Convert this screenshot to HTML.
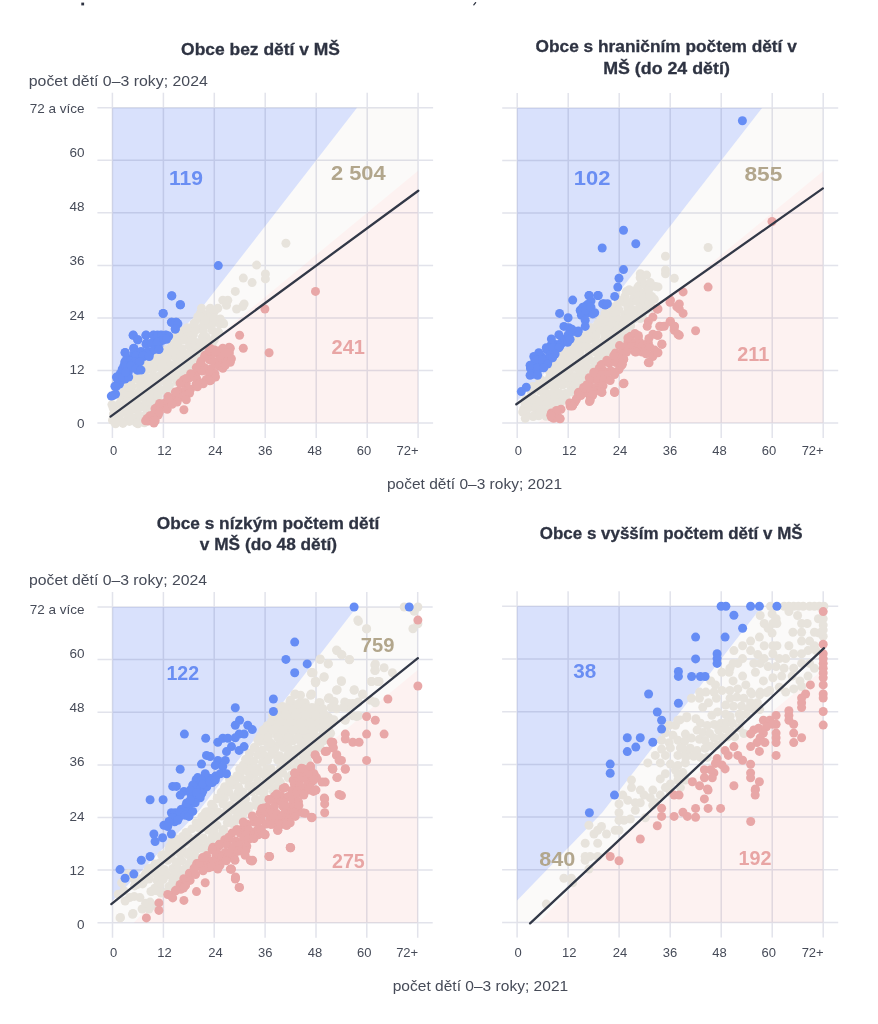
<!DOCTYPE html>
<html><head><meta charset="utf-8"><style>
html,body{margin:0;padding:0;background:#fff;width:878px;height:1024px;overflow:hidden}
svg{display:block}
text{font-family:"Liberation Sans","DejaVu Sans",sans-serif}
</style></head><body>
<svg width="878" height="1024" viewBox="0 0 878 1024">
<rect x="112.4" y="107.7" width="305.7" height="315.4" fill="#fbfaf9"/>
<polygon points="112.4,401.2 197.3,313.6 357,107.7 112.4,107.7" fill="#d9e1fc"/>
<polygon points="133.6,423.1 218.5,335.5 418.1,170.8 418.1,423.1" fill="#fdf2f1"/>
<path d="M97.4 423.1H433.1M112.4 92.7V438.1M97.4 370.5H433.1M163.4 92.7V438.1M97.4 318H433.1M214.3 92.7V438.1M97.4 265.4H433.1M265.2 92.7V438.1M97.4 212.8H433.1M316.2 92.7V438.1M97.4 160.3H433.1M367.2 92.7V438.1M97.4 107.7H433.1M418.1 92.7V438.1" stroke="rgba(50,60,110,0.14)" stroke-width="1.5" fill="none"/>
<g fill="#e7e3dc"><circle cx="202.2" cy="315.3" r="4.5"/><circle cx="207.4" cy="314.3" r="4.5"/><circle cx="212.4" cy="314.5" r="4.5"/><circle cx="198.2" cy="318.5" r="4.5"/><circle cx="202.6" cy="319.1" r="4.5"/><circle cx="210.2" cy="319.6" r="4.5"/><circle cx="218.6" cy="320" r="4.5"/><circle cx="194.2" cy="323.6" r="4.5"/><circle cx="202.3" cy="326.6" r="4.5"/><circle cx="207.4" cy="324.8" r="4.5"/><circle cx="212.5" cy="323.5" r="4.5"/><circle cx="219.7" cy="324.1" r="4.5"/><circle cx="184.1" cy="330.5" r="4.5"/><circle cx="191" cy="328.9" r="4.5"/><circle cx="196.3" cy="329.7" r="4.5"/><circle cx="203.4" cy="331.1" r="4.5"/><circle cx="212.2" cy="330.3" r="4.5"/><circle cx="218.6" cy="332.1" r="4.5"/><circle cx="177.1" cy="335.7" r="4.5"/><circle cx="181.5" cy="337.6" r="4.5"/><circle cx="189" cy="334.9" r="4.5"/><circle cx="193.4" cy="334.9" r="4.5"/><circle cx="202.4" cy="337.1" r="4.5"/><circle cx="206.3" cy="337.1" r="4.5"/><circle cx="215.5" cy="336.6" r="4.5"/><circle cx="172" cy="343" r="4.5"/><circle cx="178.7" cy="341.7" r="4.5"/><circle cx="185.1" cy="340" r="4.5"/><circle cx="191.3" cy="340.5" r="4.5"/><circle cx="196.2" cy="342.6" r="4.5"/><circle cx="203.2" cy="341.5" r="4.5"/><circle cx="211.4" cy="341.8" r="4.5"/><circle cx="169.7" cy="348.5" r="4.5"/><circle cx="177" cy="346.4" r="4.5"/><circle cx="182.1" cy="348.7" r="4.5"/><circle cx="189.4" cy="345.9" r="4.5"/><circle cx="193.4" cy="347" r="4.5"/><circle cx="199.6" cy="346.3" r="4.5"/><circle cx="206" cy="347.8" r="4.5"/><circle cx="164.2" cy="352.2" r="4.5"/><circle cx="172.7" cy="352.8" r="4.5"/><circle cx="177.2" cy="354.4" r="4.5"/><circle cx="186" cy="354.3" r="4.5"/><circle cx="190.1" cy="351.9" r="4.5"/><circle cx="196.3" cy="353.7" r="4.5"/><circle cx="203.5" cy="351.5" r="4.5"/><circle cx="156.1" cy="357.8" r="4.5"/><circle cx="162.8" cy="359.8" r="4.5"/><circle cx="168.3" cy="357" r="4.5"/><circle cx="175.6" cy="357.4" r="4.5"/><circle cx="180.5" cy="357.2" r="4.5"/><circle cx="186.7" cy="357.3" r="4.5"/><circle cx="194" cy="357.6" r="4.5"/><circle cx="146.1" cy="365" r="4.5"/><circle cx="153.8" cy="364.3" r="4.5"/><circle cx="159.1" cy="363.4" r="4.5"/><circle cx="164.4" cy="362.6" r="4.5"/><circle cx="170.8" cy="364.7" r="4.5"/><circle cx="177.8" cy="362.7" r="4.5"/><circle cx="183.7" cy="365" r="4.5"/><circle cx="192.7" cy="364.5" r="4.5"/><circle cx="148.5" cy="369.1" r="4.5"/><circle cx="154.7" cy="367.8" r="4.5"/><circle cx="162" cy="368.5" r="4.5"/><circle cx="169.4" cy="369.5" r="4.5"/><circle cx="176.3" cy="370" r="4.5"/><circle cx="182.6" cy="370.7" r="4.5"/><circle cx="187.9" cy="368.9" r="4.5"/><circle cx="139" cy="374.5" r="4.5"/><circle cx="145.3" cy="376.2" r="4.5"/><circle cx="153.3" cy="375.4" r="4.5"/><circle cx="159.9" cy="375.6" r="4.5"/><circle cx="165.8" cy="373.3" r="4.5"/><circle cx="173.3" cy="375.9" r="4.5"/><circle cx="178.7" cy="375.1" r="4.5"/><circle cx="131.5" cy="379.9" r="4.5"/><circle cx="137.3" cy="378.9" r="4.5"/><circle cx="142" cy="379.8" r="4.5"/><circle cx="150.5" cy="381.2" r="4.5"/><circle cx="156.9" cy="379.9" r="4.5"/><circle cx="162.7" cy="380.5" r="4.5"/><circle cx="169" cy="379.3" r="4.5"/><circle cx="176.8" cy="379.6" r="4.5"/><circle cx="127.4" cy="384.5" r="4.5"/><circle cx="132.2" cy="386.1" r="4.5"/><circle cx="140.1" cy="385.5" r="4.5"/><circle cx="145.4" cy="385.6" r="4.5"/><circle cx="152.4" cy="387.3" r="4.5"/><circle cx="157.8" cy="387" r="4.5"/><circle cx="167" cy="384.9" r="4.5"/><circle cx="125.6" cy="392.8" r="4.5"/><circle cx="131.1" cy="393.1" r="4.5"/><circle cx="138.6" cy="391.9" r="4.5"/><circle cx="144.2" cy="390.2" r="4.5"/><circle cx="150.7" cy="391.6" r="4.5"/><circle cx="157.1" cy="392.2" r="4.5"/><circle cx="161.9" cy="390.2" r="4.5"/><circle cx="120.5" cy="395.9" r="4.5"/><circle cx="126.6" cy="396.5" r="4.5"/><circle cx="134.1" cy="398.6" r="4.5"/><circle cx="141.1" cy="397" r="4.5"/><circle cx="146.4" cy="397.4" r="4.5"/><circle cx="152.6" cy="396.7" r="4.5"/><circle cx="158" cy="396.5" r="4.5"/><circle cx="119" cy="404.1" r="4.5"/><circle cx="125.9" cy="402" r="4.5"/><circle cx="129.3" cy="401.7" r="4.5"/><circle cx="137.1" cy="403.5" r="4.5"/><circle cx="145" cy="403.6" r="4.5"/><circle cx="150.4" cy="403.8" r="4.5"/><circle cx="156.1" cy="403" r="4.5"/><circle cx="113.8" cy="407.6" r="4.5"/><circle cx="122.6" cy="409.1" r="4.5"/><circle cx="126.8" cy="406.8" r="4.5"/><circle cx="133.9" cy="409" r="4.5"/><circle cx="140" cy="407.6" r="4.5"/><circle cx="147.2" cy="409.9" r="4.5"/><circle cx="152.1" cy="406.8" r="4.5"/><circle cx="116.9" cy="415.6" r="4.5"/><circle cx="123.1" cy="412.5" r="4.5"/><circle cx="129.2" cy="413.6" r="4.5"/><circle cx="138.4" cy="415.3" r="4.5"/><circle cx="144.3" cy="415.7" r="4.5"/><circle cx="116" cy="418" r="4.5"/><circle cx="120.8" cy="420.6" r="4.5"/><circle cx="128.4" cy="418" r="4.5"/><circle cx="132.3" cy="418.1" r="4.5"/><circle cx="141.7" cy="418.7" r="4.5"/><circle cx="138" cy="423.7" r="4.5"/><circle cx="112.5" cy="420.3" r="4.5"/><circle cx="113.4" cy="414.1" r="4.5"/><circle cx="113.1" cy="408" r="4.5"/><circle cx="111.9" cy="404.6" r="4.5"/><circle cx="120.2" cy="396.1" r="4.5"/><circle cx="124" cy="392" r="4.5"/><circle cx="128" cy="386.9" r="4.5"/><circle cx="131" cy="381.5" r="4.5"/><circle cx="137.3" cy="376.7" r="4.5"/><circle cx="145.5" cy="368.6" r="4.5"/><circle cx="154.4" cy="361" r="4.5"/><circle cx="159.8" cy="356.4" r="4.5"/><circle cx="166.1" cy="350.4" r="4.5"/><circle cx="174" cy="341.1" r="4.5"/><circle cx="178.7" cy="333.5" r="4.5"/><circle cx="187.3" cy="327.7" r="4.5"/><circle cx="194.2" cy="323.3" r="4.5"/><circle cx="197.8" cy="316.8" r="4.5"/><circle cx="200.4" cy="313.1" r="4.5"/><circle cx="210.6" cy="312.6" r="4.5"/><circle cx="214.4" cy="311.2" r="4.5"/><circle cx="219.7" cy="319.7" r="4.5"/><circle cx="223.7" cy="323.7" r="4.5"/><circle cx="217.9" cy="333" r="4.5"/><circle cx="214.3" cy="339.8" r="4.5"/><circle cx="212.1" cy="343.9" r="4.5"/><circle cx="205.6" cy="347.7" r="4.5"/><circle cx="202.1" cy="355.5" r="4.5"/><circle cx="195.5" cy="359.1" r="4.5"/><circle cx="190.8" cy="364.5" r="4.5"/><circle cx="183.9" cy="371.9" r="4.5"/><circle cx="176.8" cy="381.9" r="4.5"/><circle cx="169.4" cy="385.6" r="4.5"/><circle cx="166.6" cy="391.5" r="4.5"/><circle cx="158.5" cy="401.8" r="4.5"/><circle cx="150.7" cy="410.1" r="4.5"/><circle cx="144.3" cy="418.8" r="4.5"/><circle cx="144.4" cy="422.8" r="4.5"/><circle cx="136.3" cy="422.7" r="4.5"/><circle cx="129.4" cy="421.4" r="4.5"/><circle cx="122.9" cy="423.4" r="4.5"/><circle cx="115.5" cy="423.7" r="4.5"/></g>
<g fill="#e7e3dc"><circle cx="285.9" cy="243.3" r="4.5"/><circle cx="256.6" cy="265.1" r="4.5"/><circle cx="265.4" cy="273.9" r="4.5"/><circle cx="265.4" cy="278.9" r="4.5"/><circle cx="243.3" cy="278.1" r="4.5"/><circle cx="252.1" cy="282.6" r="4.5"/><circle cx="235.3" cy="291.4" r="4.5"/><circle cx="222.8" cy="300.2" r="4.5"/><circle cx="227.8" cy="300.2" r="4.5"/><circle cx="226.5" cy="305.2" r="4.5"/><circle cx="236.6" cy="309" r="4.5"/><circle cx="242.8" cy="306.4" r="4.5"/><circle cx="244.1" cy="303.9" r="4.5"/><circle cx="201.5" cy="308.2" r="4.5"/><circle cx="210.2" cy="308.2" r="4.5"/><circle cx="217.8" cy="308.2" r="4.5"/><circle cx="200.2" cy="316.5" r="4.5"/><circle cx="205.2" cy="320.2" r="4.5"/><circle cx="214" cy="317.7" r="4.5"/><circle cx="220.3" cy="319" r="4.5"/><circle cx="222.8" cy="322.7" r="4.5"/></g>
<g fill="#e8a7a7"><circle cx="214.5" cy="350" r="4.5"/><circle cx="220.6" cy="350.5" r="4.5"/><circle cx="205" cy="355.3" r="4.5"/><circle cx="212.9" cy="353.7" r="4.5"/><circle cx="220.1" cy="355.5" r="4.5"/><circle cx="224.8" cy="356" r="4.5"/><circle cx="201.2" cy="361" r="4.5"/><circle cx="209.5" cy="359.7" r="4.5"/><circle cx="214.1" cy="361.5" r="4.5"/><circle cx="220.2" cy="359.3" r="4.5"/><circle cx="228.1" cy="359.6" r="4.5"/><circle cx="198.5" cy="367.1" r="4.5"/><circle cx="204.3" cy="367.4" r="4.5"/><circle cx="211.4" cy="368.4" r="4.5"/><circle cx="219.2" cy="366" r="4.5"/><circle cx="195.9" cy="373.7" r="4.5"/><circle cx="202.1" cy="371.1" r="4.5"/><circle cx="209.4" cy="373.6" r="4.5"/><circle cx="214.9" cy="373.6" r="4.5"/><circle cx="183.4" cy="380" r="4.5"/><circle cx="189.6" cy="377.9" r="4.5"/><circle cx="197.1" cy="379.5" r="4.5"/><circle cx="206.3" cy="379.5" r="4.5"/><circle cx="211" cy="380" r="4.5"/><circle cx="182.4" cy="383.4" r="4.5"/><circle cx="186.2" cy="383.3" r="4.5"/><circle cx="196.1" cy="384.1" r="4.5"/><circle cx="200.2" cy="383" r="4.5"/><circle cx="178.7" cy="391" r="4.5"/><circle cx="185.5" cy="391" r="4.5"/><circle cx="190.5" cy="389.2" r="4.5"/><circle cx="168.1" cy="396.6" r="4.5"/><circle cx="173.2" cy="397.7" r="4.5"/><circle cx="179.6" cy="397.5" r="4.5"/><circle cx="186.7" cy="394.7" r="4.5"/><circle cx="165" cy="403" r="4.5"/><circle cx="171.8" cy="402.8" r="4.5"/><circle cx="177.1" cy="402" r="4.5"/><circle cx="155" cy="408.8" r="4.5"/><circle cx="161.4" cy="407.2" r="4.5"/><circle cx="167.2" cy="409.2" r="4.5"/><circle cx="150" cy="415.8" r="4.5"/><circle cx="158.2" cy="415" r="4.5"/><circle cx="148.3" cy="421" r="4.5"/><circle cx="154.5" cy="421.3" r="4.5"/><circle cx="147.2" cy="418.5" r="4.5"/><circle cx="153.6" cy="414.2" r="4.5"/><circle cx="156.8" cy="407.6" r="4.5"/><circle cx="159.6" cy="403.4" r="4.5"/><circle cx="168.3" cy="398.7" r="4.5"/><circle cx="175.4" cy="391.9" r="4.5"/><circle cx="180.1" cy="383.1" r="4.5"/><circle cx="186.1" cy="378.4" r="4.5"/><circle cx="190.7" cy="373.7" r="4.5"/><circle cx="196.3" cy="367.6" r="4.5"/><circle cx="200.6" cy="362.6" r="4.5"/><circle cx="204.6" cy="356.6" r="4.5"/><circle cx="209" cy="350.9" r="4.5"/><circle cx="210.6" cy="348.6" r="4.5"/><circle cx="216.3" cy="351.1" r="4.5"/><circle cx="223.5" cy="352.8" r="4.5"/><circle cx="229.4" cy="352.9" r="4.5"/><circle cx="229.1" cy="347.3" r="4.5"/><circle cx="231.4" cy="358.8" r="4.5"/><circle cx="225.4" cy="363" r="4.5"/><circle cx="222.8" cy="368.3" r="4.5"/><circle cx="215.5" cy="377" r="4.5"/><circle cx="209.9" cy="380.7" r="4.5"/><circle cx="203.3" cy="383.7" r="4.5"/><circle cx="197.4" cy="386.7" r="4.5"/><circle cx="189.6" cy="393.1" r="4.5"/><circle cx="186.3" cy="399.8" r="4.5"/><circle cx="172.1" cy="404.2" r="4.5"/><circle cx="159.3" cy="412.2" r="4.5"/><circle cx="153.9" cy="421" r="4.5"/><circle cx="155.2" cy="420.7" r="4.5"/><circle cx="145.6" cy="420.7" r="4.5"/></g>
<g fill="#e8a7a7"><circle cx="315.5" cy="291.4" r="4.5"/><circle cx="264.9" cy="309" r="4.5"/><circle cx="239.6" cy="335.3" r="4.5"/><circle cx="243.3" cy="348.3" r="4.5"/><circle cx="269.1" cy="352.8" r="4.5"/><circle cx="222.8" cy="348.3" r="4.5"/><circle cx="230.3" cy="348.3" r="4.5"/><circle cx="226.5" cy="352.8" r="4.5"/><circle cx="230.3" cy="362.3" r="4.5"/><circle cx="225.3" cy="365.3" r="4.5"/><circle cx="183.9" cy="409.7" r="4.5"/><circle cx="153.9" cy="423" r="4.5"/></g>
<g fill="#668df5"><circle cx="127" cy="362.3" r="4.5"/><circle cx="133.8" cy="361.1" r="4.5"/><circle cx="123.9" cy="366" r="4.5"/><circle cx="131.2" cy="367.2" r="4.5"/><circle cx="120.2" cy="373.7" r="4.5"/><circle cx="128.1" cy="372.8" r="4.5"/><circle cx="118.4" cy="378.5" r="4.5"/><circle cx="123.5" cy="378.4" r="4.5"/><circle cx="115.6" cy="394.1" r="4.5"/><circle cx="119.5" cy="384.1" r="4.5"/><circle cx="118.8" cy="378.9" r="4.5"/><circle cx="122.2" cy="369.3" r="4.5"/><circle cx="124.7" cy="362.1" r="4.5"/><circle cx="130.9" cy="358.5" r="4.5"/><circle cx="133.8" cy="353.9" r="4.5"/><circle cx="139.8" cy="353.8" r="4.5"/><circle cx="137.1" cy="362.8" r="4.5"/><circle cx="128.8" cy="370" r="4.5"/><circle cx="122.4" cy="379.6" r="4.5"/><circle cx="114.9" cy="386.2" r="4.5"/><circle cx="113.3" cy="395.4" r="4.5"/></g>
<g fill="#668df5"><circle cx="218.3" cy="265.6" r="4.5"/><circle cx="171.7" cy="295.7" r="4.5"/><circle cx="180.2" cy="304.7" r="4.5"/><circle cx="163.1" cy="313.5" r="4.5"/><circle cx="171.4" cy="322.2" r="4.5"/><circle cx="176.4" cy="322.2" r="4.5"/><circle cx="175.2" cy="329" r="4.5"/><circle cx="133.1" cy="335.3" r="4.5"/><circle cx="145.9" cy="335.3" r="4.5"/><circle cx="153.9" cy="335.3" r="4.5"/><circle cx="160.1" cy="335.3" r="4.5"/><circle cx="166.4" cy="335.3" r="4.5"/><circle cx="137.6" cy="339.8" r="4.5"/><circle cx="146.4" cy="343.3" r="4.5"/><circle cx="152.6" cy="343.3" r="4.5"/><circle cx="158.9" cy="343.3" r="4.5"/><circle cx="162.6" cy="340.3" r="4.5"/><circle cx="133.8" cy="348.3" r="4.5"/><circle cx="158.9" cy="349" r="4.5"/><circle cx="125.1" cy="352.8" r="4.5"/><circle cx="141.3" cy="352.8" r="4.5"/><circle cx="150.1" cy="352.8" r="4.5"/><circle cx="127.6" cy="361.6" r="4.5"/><circle cx="135.1" cy="359.1" r="4.5"/><circle cx="143.8" cy="356.6" r="4.5"/><circle cx="127.6" cy="370.3" r="4.5"/><circle cx="137.6" cy="370.3" r="4.5"/><circle cx="117.5" cy="379.1" r="4.5"/><circle cx="125.1" cy="379.1" r="4.5"/><circle cx="116.3" cy="386.6" r="4.5"/><circle cx="111.3" cy="396.1" r="4.5"/><circle cx="171.8" cy="295.9" r="4.5"/><circle cx="180.5" cy="304.7" r="4.5"/><circle cx="163.2" cy="313.4" r="4.5"/><circle cx="171.8" cy="322.3" r="4.5"/><circle cx="175.9" cy="322.3" r="4.5"/><circle cx="177.9" cy="323.8" r="4.5"/><circle cx="175.3" cy="329" r="4.5"/><circle cx="133.3" cy="335.1" r="4.5"/><circle cx="146.1" cy="335.1" r="4.5"/><circle cx="153.3" cy="335.1" r="4.5"/><circle cx="157.4" cy="335.1" r="4.5"/><circle cx="161.5" cy="335.1" r="4.5"/><circle cx="165.6" cy="335.1" r="4.5"/><circle cx="168.7" cy="336.1" r="4.5"/><circle cx="137.9" cy="339.7" r="4.5"/><circle cx="146.1" cy="344.3" r="4.5"/><circle cx="151.3" cy="343.3" r="4.5"/><circle cx="157.4" cy="342.3" r="4.5"/><circle cx="163.6" cy="339.2" r="4.5"/><circle cx="166.6" cy="339.2" r="4.5"/><circle cx="133.8" cy="348.4" r="4.5"/><circle cx="141" cy="351.5" r="4.5"/><circle cx="148.2" cy="351.5" r="4.5"/><circle cx="154.3" cy="349.5" r="4.5"/><circle cx="158.9" cy="349.5" r="4.5"/><circle cx="125.1" cy="352.5" r="4.5"/><circle cx="135.9" cy="355.6" r="4.5"/><circle cx="143.1" cy="355.6" r="4.5"/><circle cx="149.2" cy="356.6" r="4.5"/><circle cx="125.6" cy="360.7" r="4.5"/><circle cx="130.8" cy="360.7" r="4.5"/><circle cx="134.9" cy="361.8" r="4.5"/><circle cx="140" cy="361.8" r="4.5"/><circle cx="125.6" cy="365.9" r="4.5"/><circle cx="130.8" cy="365.9" r="4.5"/><circle cx="135.9" cy="368.9" r="4.5"/><circle cx="141" cy="370" r="4.5"/><circle cx="116.4" cy="377.1" r="4.5"/><circle cx="122.6" cy="377.1" r="4.5"/><circle cx="128.7" cy="377.1" r="4.5"/><circle cx="125.6" cy="372" r="4.5"/></g>
<line x1="110.5" y1="416.6" x2="418.3" y2="190.7" stroke="#323847" stroke-width="2.3" stroke-linecap="round"/>
<rect x="517.2" y="107.9" width="306" height="315.1" fill="#fbfaf9"/>
<polygon points="517.2,401.1 602.2,313.6 762,107.9 517.2,107.9" fill="#d9e1fc"/>
<polygon points="538.5,423 623.5,335.5 823.2,170.9 823.2,423" fill="#fdf2f1"/>
<path d="M502.2 423H838.2M517.2 92.9V438M502.2 370.5H838.2M568.2 92.9V438M502.2 318H838.2M619.2 92.9V438M502.2 265.4H838.2M670.2 92.9V438M502.2 212.9H838.2M721.2 92.9V438M502.2 160.4H838.2M772.2 92.9V438M502.2 107.9H838.2M823.2 92.9V438" stroke="rgba(50,60,110,0.14)" stroke-width="1.5" fill="none"/>
<g fill="#e7e3dc"><circle cx="642.1" cy="282.2" r="4.5"/><circle cx="637.9" cy="287.1" r="4.5"/><circle cx="647" cy="286.8" r="4.5"/><circle cx="630.8" cy="291" r="4.5"/><circle cx="635.6" cy="290.6" r="4.5"/><circle cx="641.5" cy="292.9" r="4.5"/><circle cx="648.2" cy="290.7" r="4.5"/><circle cx="625.1" cy="296.3" r="4.5"/><circle cx="633.6" cy="298.1" r="4.5"/><circle cx="638.1" cy="295.9" r="4.5"/><circle cx="644.1" cy="297.7" r="4.5"/><circle cx="651.9" cy="296.6" r="4.5"/><circle cx="617.5" cy="304" r="4.5"/><circle cx="624.4" cy="302.3" r="4.5"/><circle cx="630.2" cy="302.5" r="4.5"/><circle cx="636.8" cy="301.4" r="4.5"/><circle cx="643.6" cy="304.5" r="4.5"/><circle cx="648.7" cy="303" r="4.5"/><circle cx="613.8" cy="309.3" r="4.5"/><circle cx="618.8" cy="309.6" r="4.5"/><circle cx="627.8" cy="308.1" r="4.5"/><circle cx="632.5" cy="309.6" r="4.5"/><circle cx="639.2" cy="308.1" r="4.5"/><circle cx="647" cy="309.4" r="4.5"/><circle cx="651.4" cy="307.6" r="4.5"/><circle cx="609.5" cy="314.7" r="4.5"/><circle cx="616" cy="314.2" r="4.5"/><circle cx="624.6" cy="314.5" r="4.5"/><circle cx="628.7" cy="314.1" r="4.5"/><circle cx="635.7" cy="315.6" r="4.5"/><circle cx="641.6" cy="313.4" r="4.5"/><circle cx="600.8" cy="319.2" r="4.5"/><circle cx="607.4" cy="318" r="4.5"/><circle cx="613" cy="320.9" r="4.5"/><circle cx="619" cy="319.8" r="4.5"/><circle cx="626.3" cy="318.9" r="4.5"/><circle cx="634.4" cy="318.9" r="4.5"/><circle cx="640.1" cy="318.5" r="4.5"/><circle cx="597.8" cy="325.2" r="4.5"/><circle cx="605.5" cy="325.4" r="4.5"/><circle cx="610" cy="326.2" r="4.5"/><circle cx="618" cy="325.6" r="4.5"/><circle cx="622.7" cy="325" r="4.5"/><circle cx="629.4" cy="325.9" r="4.5"/><circle cx="589.6" cy="330.8" r="4.5"/><circle cx="594.4" cy="331.4" r="4.5"/><circle cx="600.4" cy="330.3" r="4.5"/><circle cx="607.5" cy="330.3" r="4.5"/><circle cx="615.1" cy="331.4" r="4.5"/><circle cx="620" cy="329.4" r="4.5"/><circle cx="625.9" cy="330.4" r="4.5"/><circle cx="585.1" cy="335.8" r="4.5"/><circle cx="592.8" cy="336.8" r="4.5"/><circle cx="596" cy="336" r="4.5"/><circle cx="604.9" cy="335.7" r="4.5"/><circle cx="611" cy="334.6" r="4.5"/><circle cx="616.1" cy="337.5" r="4.5"/><circle cx="623.4" cy="336.9" r="4.5"/><circle cx="576.5" cy="342.2" r="4.5"/><circle cx="581" cy="341.7" r="4.5"/><circle cx="587.5" cy="340.4" r="4.5"/><circle cx="595.7" cy="342.2" r="4.5"/><circle cx="602.3" cy="341.7" r="4.5"/><circle cx="607.5" cy="341" r="4.5"/><circle cx="612" cy="343.4" r="4.5"/><circle cx="573" cy="347" r="4.5"/><circle cx="577.5" cy="346.4" r="4.5"/><circle cx="584" cy="346.6" r="4.5"/><circle cx="589.5" cy="348" r="4.5"/><circle cx="597" cy="346.3" r="4.5"/><circle cx="604.6" cy="346.1" r="4.5"/><circle cx="609.5" cy="348.6" r="4.5"/><circle cx="563.3" cy="352.6" r="4.5"/><circle cx="569.3" cy="353.3" r="4.5"/><circle cx="574.5" cy="352.7" r="4.5"/><circle cx="580.1" cy="351.9" r="4.5"/><circle cx="589.1" cy="352.4" r="4.5"/><circle cx="594.9" cy="351.7" r="4.5"/><circle cx="600.9" cy="352.6" r="4.5"/><circle cx="607.1" cy="352.3" r="4.5"/><circle cx="559.9" cy="357" r="4.5"/><circle cx="564" cy="357.4" r="4.5"/><circle cx="570.9" cy="357.9" r="4.5"/><circle cx="577.9" cy="357" r="4.5"/><circle cx="584.1" cy="359.1" r="4.5"/><circle cx="590" cy="359.8" r="4.5"/><circle cx="597.8" cy="359.3" r="4.5"/><circle cx="603.1" cy="358.4" r="4.5"/><circle cx="557.1" cy="364.6" r="4.5"/><circle cx="562.2" cy="362.7" r="4.5"/><circle cx="569.4" cy="363.9" r="4.5"/><circle cx="575.2" cy="365.6" r="4.5"/><circle cx="580.3" cy="365.1" r="4.5"/><circle cx="586.4" cy="364.9" r="4.5"/><circle cx="595.4" cy="363.4" r="4.5"/><circle cx="552.6" cy="370.6" r="4.5"/><circle cx="560.3" cy="368.4" r="4.5"/><circle cx="564.8" cy="369.3" r="4.5"/><circle cx="570.9" cy="368.2" r="4.5"/><circle cx="577.6" cy="368.7" r="4.5"/><circle cx="585.4" cy="369.6" r="4.5"/><circle cx="589.8" cy="369.1" r="4.5"/><circle cx="550" cy="376.5" r="4.5"/><circle cx="557.4" cy="374.2" r="4.5"/><circle cx="563.3" cy="376.4" r="4.5"/><circle cx="569.6" cy="374.7" r="4.5"/><circle cx="574.1" cy="376.4" r="4.5"/><circle cx="580.9" cy="374.9" r="4.5"/><circle cx="588.1" cy="374.9" r="4.5"/><circle cx="539.7" cy="380.1" r="4.5"/><circle cx="546.9" cy="380.9" r="4.5"/><circle cx="552.5" cy="380.3" r="4.5"/><circle cx="558.9" cy="381.4" r="4.5"/><circle cx="566.6" cy="382.2" r="4.5"/><circle cx="570.8" cy="380.2" r="4.5"/><circle cx="578.1" cy="381.1" r="4.5"/><circle cx="584.2" cy="379.8" r="4.5"/><circle cx="537" cy="386.2" r="4.5"/><circle cx="543.2" cy="386.7" r="4.5"/><circle cx="549.2" cy="385.1" r="4.5"/><circle cx="554.8" cy="387.8" r="4.5"/><circle cx="562.5" cy="385.1" r="4.5"/><circle cx="570" cy="385.6" r="4.5"/><circle cx="573.8" cy="386.5" r="4.5"/><circle cx="533.1" cy="390.4" r="4.5"/><circle cx="540.2" cy="391" r="4.5"/><circle cx="545.6" cy="392.7" r="4.5"/><circle cx="552.5" cy="393.3" r="4.5"/><circle cx="559.5" cy="393.3" r="4.5"/><circle cx="565.7" cy="393.4" r="4.5"/><circle cx="573.2" cy="390.9" r="4.5"/><circle cx="531" cy="397.2" r="4.5"/><circle cx="535.5" cy="398.9" r="4.5"/><circle cx="543.3" cy="398.2" r="4.5"/><circle cx="550.6" cy="399.1" r="4.5"/><circle cx="554.3" cy="397" r="4.5"/><circle cx="561.1" cy="397.6" r="4.5"/><circle cx="525.9" cy="403.7" r="4.5"/><circle cx="532.8" cy="402.4" r="4.5"/><circle cx="539.9" cy="402.3" r="4.5"/><circle cx="546.6" cy="403.2" r="4.5"/><circle cx="554.3" cy="404.8" r="4.5"/><circle cx="557.5" cy="403.3" r="4.5"/><circle cx="523.7" cy="408.9" r="4.5"/><circle cx="529.7" cy="407.6" r="4.5"/><circle cx="535.3" cy="408" r="4.5"/><circle cx="542.5" cy="409.5" r="4.5"/><circle cx="549.7" cy="410.2" r="4.5"/><circle cx="555.4" cy="410.1" r="4.5"/><circle cx="527.3" cy="415.6" r="4.5"/><circle cx="534" cy="415.7" r="4.5"/><circle cx="538.9" cy="413.7" r="4.5"/><circle cx="547.2" cy="414.8" r="4.5"/><circle cx="522.7" cy="412.1" r="4.5"/><circle cx="525" cy="403.4" r="4.5"/><circle cx="525.8" cy="399.2" r="4.5"/><circle cx="531.4" cy="392.5" r="4.5"/><circle cx="532.7" cy="386.4" r="4.5"/><circle cx="540.9" cy="379.8" r="4.5"/><circle cx="549.2" cy="371.1" r="4.5"/><circle cx="553.8" cy="363.1" r="4.5"/><circle cx="560.3" cy="359" r="4.5"/><circle cx="566.2" cy="352.5" r="4.5"/><circle cx="571.1" cy="346.4" r="4.5"/><circle cx="576.1" cy="340.6" r="4.5"/><circle cx="581" cy="337.1" r="4.5"/><circle cx="591.6" cy="327.8" r="4.5"/><circle cx="597.7" cy="323.6" r="4.5"/><circle cx="603.1" cy="318.9" r="4.5"/><circle cx="605" cy="313.3" r="4.5"/><circle cx="611.3" cy="307" r="4.5"/><circle cx="619.4" cy="300.4" r="4.5"/><circle cx="626.3" cy="291.6" r="4.5"/><circle cx="629.2" cy="289.7" r="4.5"/><circle cx="639.3" cy="285.7" r="4.5"/><circle cx="641.9" cy="280.6" r="4.5"/><circle cx="640.2" cy="277.8" r="4.5"/><circle cx="644.6" cy="284.4" r="4.5"/><circle cx="648.9" cy="288.8" r="4.5"/><circle cx="650" cy="296.4" r="4.5"/><circle cx="654.3" cy="299.3" r="4.5"/><circle cx="650.8" cy="306.2" r="4.5"/><circle cx="642.2" cy="316.4" r="4.5"/><circle cx="630.7" cy="325.7" r="4.5"/><circle cx="626.5" cy="329.4" r="4.5"/><circle cx="624.2" cy="335.1" r="4.5"/><circle cx="619.8" cy="340.9" r="4.5"/><circle cx="613" cy="344.8" r="4.5"/><circle cx="606.3" cy="354.9" r="4.5"/><circle cx="601.6" cy="360.9" r="4.5"/><circle cx="596" cy="364.3" r="4.5"/><circle cx="591.6" cy="371.3" r="4.5"/><circle cx="586" cy="375.7" r="4.5"/><circle cx="582.5" cy="381.8" r="4.5"/><circle cx="576.8" cy="387.1" r="4.5"/><circle cx="570.9" cy="392.1" r="4.5"/><circle cx="566.3" cy="398.9" r="4.5"/><circle cx="561.4" cy="401.5" r="4.5"/><circle cx="555.6" cy="407.6" r="4.5"/><circle cx="551.8" cy="414.3" r="4.5"/><circle cx="546" cy="416.3" r="4.5"/><circle cx="538.9" cy="415.7" r="4.5"/><circle cx="533.1" cy="416.6" r="4.5"/><circle cx="525.3" cy="418.4" r="4.5"/></g>
<g fill="#e7e3dc"><circle cx="640.3" cy="273.8" r="4.5"/><circle cx="646.6" cy="275.1" r="4.5"/><circle cx="655.3" cy="286.4" r="4.5"/><circle cx="650.3" cy="282.6" r="4.5"/><circle cx="708.1" cy="247.5" r="4.5"/><circle cx="665.5" cy="256.3" r="4.5"/><circle cx="665.5" cy="270.1" r="4.5"/><circle cx="665.5" cy="273.8" r="4.5"/><circle cx="674.3" cy="278.3" r="4.5"/><circle cx="658" cy="286.9" r="4.5"/></g>
<g fill="#e8a7a7"><circle cx="630.6" cy="336.2" r="4.5"/><circle cx="638.3" cy="337.1" r="4.5"/><circle cx="628" cy="341.7" r="4.5"/><circle cx="632.2" cy="342.5" r="4.5"/><circle cx="639.8" cy="342.1" r="4.5"/><circle cx="648.2" cy="342.9" r="4.5"/><circle cx="624.4" cy="346.9" r="4.5"/><circle cx="631.5" cy="346.4" r="4.5"/><circle cx="638.3" cy="347.6" r="4.5"/><circle cx="641.8" cy="346.7" r="4.5"/><circle cx="649.8" cy="347.1" r="4.5"/><circle cx="615.5" cy="352.9" r="4.5"/><circle cx="621.5" cy="353.5" r="4.5"/><circle cx="626.6" cy="352" r="4.5"/><circle cx="634.9" cy="351.7" r="4.5"/><circle cx="641.5" cy="351.9" r="4.5"/><circle cx="645.1" cy="351.6" r="4.5"/><circle cx="612.3" cy="360.1" r="4.5"/><circle cx="617.3" cy="356.9" r="4.5"/><circle cx="623.7" cy="359" r="4.5"/><circle cx="600.9" cy="365.4" r="4.5"/><circle cx="609.3" cy="363.1" r="4.5"/><circle cx="615.9" cy="362.5" r="4.5"/><circle cx="621.2" cy="365.7" r="4.5"/><circle cx="599.1" cy="368.5" r="4.5"/><circle cx="603.8" cy="371.1" r="4.5"/><circle cx="610.7" cy="370.8" r="4.5"/><circle cx="619" cy="369.6" r="4.5"/><circle cx="594.4" cy="376.1" r="4.5"/><circle cx="600.5" cy="374.4" r="4.5"/><circle cx="606.5" cy="374.8" r="4.5"/><circle cx="614.6" cy="374.5" r="4.5"/><circle cx="592.7" cy="379.6" r="4.5"/><circle cx="598" cy="379.6" r="4.5"/><circle cx="603.9" cy="379.8" r="4.5"/><circle cx="583.6" cy="387.4" r="4.5"/><circle cx="589.2" cy="386.1" r="4.5"/><circle cx="596.4" cy="387.3" r="4.5"/><circle cx="603" cy="385.7" r="4.5"/><circle cx="578.8" cy="392.2" r="4.5"/><circle cx="586.8" cy="392.9" r="4.5"/><circle cx="590.4" cy="391.9" r="4.5"/><circle cx="596.9" cy="390.6" r="4.5"/><circle cx="576.5" cy="398.8" r="4.5"/><circle cx="590.4" cy="397.5" r="4.5"/><circle cx="573" cy="403.7" r="4.5"/><circle cx="551.4" cy="417" r="4.5"/><circle cx="555.9" cy="413.7" r="4.5"/><circle cx="561" cy="409.3" r="4.5"/><circle cx="570.1" cy="406" r="4.5"/><circle cx="576.1" cy="399.9" r="4.5"/><circle cx="578.3" cy="393.1" r="4.5"/><circle cx="586.9" cy="384.8" r="4.5"/><circle cx="589.3" cy="377.7" r="4.5"/><circle cx="593.8" cy="372.3" r="4.5"/><circle cx="601.7" cy="364.6" r="4.5"/><circle cx="606.8" cy="360.3" r="4.5"/><circle cx="613.7" cy="355.6" r="4.5"/><circle cx="619.5" cy="345.6" r="4.5"/><circle cx="627.9" cy="337.9" r="4.5"/><circle cx="634.9" cy="333.5" r="4.5"/><circle cx="638.3" cy="335.5" r="4.5"/><circle cx="648" cy="342.7" r="4.5"/><circle cx="648.9" cy="338.4" r="4.5"/><circle cx="649.5" cy="347.4" r="4.5"/><circle cx="654.7" cy="350.1" r="4.5"/><circle cx="652.2" cy="355.6" r="4.5"/><circle cx="645.9" cy="353.8" r="4.5"/><circle cx="635.8" cy="352.1" r="4.5"/><circle cx="623.7" cy="359.4" r="4.5"/><circle cx="622.4" cy="364.3" r="4.5"/><circle cx="614.6" cy="372.3" r="4.5"/><circle cx="610.2" cy="380.5" r="4.5"/><circle cx="602.3" cy="385.6" r="4.5"/><circle cx="600.4" cy="390" r="4.5"/><circle cx="591.8" cy="394.4" r="4.5"/><circle cx="580.9" cy="395.5" r="4.5"/><circle cx="574.9" cy="402.1" r="4.5"/><circle cx="569.7" cy="403" r="4.5"/><circle cx="557.5" cy="410.9" r="4.5"/><circle cx="554.2" cy="415.7" r="4.5"/><circle cx="553.6" cy="418.2" r="4.5"/></g>
<g fill="#e8a7a7"><circle cx="656.6" cy="352.8" r="4.5"/><circle cx="652.8" cy="356.5" r="4.5"/><circle cx="649.1" cy="362.8" r="4.5"/><circle cx="624" cy="383.3" r="4.5"/><circle cx="614.7" cy="391.6" r="4.5"/><circle cx="601.5" cy="391.6" r="4.5"/><circle cx="592.7" cy="395.3" r="4.5"/><circle cx="590.2" cy="400.4" r="4.5"/><circle cx="572.7" cy="405.4" r="4.5"/><circle cx="560.1" cy="418.7" r="4.5"/><circle cx="551.4" cy="412.9" r="4.5"/><circle cx="556.4" cy="410.4" r="4.5"/><circle cx="657.3" cy="308.9" r="4.5"/><circle cx="708.1" cy="287.1" r="4.5"/><circle cx="683.1" cy="291.9" r="4.5"/><circle cx="670.5" cy="300.1" r="4.5"/><circle cx="679.3" cy="303.9" r="4.5"/><circle cx="679.3" cy="308.9" r="4.5"/><circle cx="683.1" cy="313.4" r="4.5"/><circle cx="658" cy="308.9" r="4.5"/><circle cx="670.5" cy="321.4" r="4.5"/><circle cx="674.3" cy="326.4" r="4.5"/><circle cx="661.8" cy="326.4" r="4.5"/><circle cx="674.3" cy="330.2" r="4.5"/><circle cx="679.3" cy="335.2" r="4.5"/><circle cx="695.6" cy="330.7" r="4.5"/><circle cx="658" cy="335.2" r="4.5"/><circle cx="661.8" cy="344" r="4.5"/><circle cx="658" cy="352.8" r="4.5"/><circle cx="652.9" cy="317.1" r="4.5"/><circle cx="648.3" cy="321.6" r="4.5"/><circle cx="647.2" cy="326.2" r="4.5"/><circle cx="657.4" cy="309.1" r="4.5"/><circle cx="659.7" cy="326.2" r="4.5"/><circle cx="664.3" cy="326.2" r="4.5"/><circle cx="670" cy="321.6" r="4.5"/><circle cx="674.5" cy="326.2" r="4.5"/><circle cx="677.9" cy="334.2" r="4.5"/><circle cx="670" cy="302.3" r="4.5"/><circle cx="676.8" cy="306.8" r="4.5"/><circle cx="662" cy="344.4" r="4.5"/><circle cx="657.4" cy="352.4" r="4.5"/><circle cx="648.3" cy="362.6" r="4.5"/><circle cx="623.3" cy="383.7" r="4.5"/><circle cx="614.7" cy="392.3" r="4.5"/><circle cx="601.6" cy="392.3" r="4.5"/><circle cx="652.9" cy="334.2" r="4.5"/><circle cx="657.4" cy="335.3" r="4.5"/><circle cx="614.5" cy="392.4" r="4.5"/><circle cx="602" cy="392.4" r="4.5"/><circle cx="589.5" cy="401.5" r="4.5"/><circle cx="559.9" cy="418.6" r="4.5"/><circle cx="550.8" cy="415.2" r="4.5"/><circle cx="572.4" cy="406.1" r="4.5"/><circle cx="772" cy="221.5" r="4.5"/></g>
<g fill="#668df5"><circle cx="555.7" cy="344.6" r="4.5"/><circle cx="561.2" cy="343.9" r="4.5"/><circle cx="547.2" cy="349.9" r="4.5"/><circle cx="550.8" cy="350.2" r="4.5"/><circle cx="542.2" cy="357.1" r="4.5"/><circle cx="550.5" cy="356.7" r="4.5"/><circle cx="539.9" cy="362.7" r="4.5"/><circle cx="546.7" cy="362.1" r="4.5"/><circle cx="530.5" cy="368.5" r="4.5"/><circle cx="536.3" cy="366.6" r="4.5"/><circle cx="567.6" cy="342.3" r="4.5"/><circle cx="561.3" cy="342.6" r="4.5"/><circle cx="555.8" cy="348.7" r="4.5"/><circle cx="552.7" cy="354.5" r="4.5"/><circle cx="547.9" cy="361.8" r="4.5"/><circle cx="537.5" cy="366.3" r="4.5"/><circle cx="537.8" cy="370.1" r="4.5"/><circle cx="534" cy="373.9" r="4.5"/><circle cx="531.2" cy="374.6" r="4.5"/><circle cx="530.9" cy="367.6" r="4.5"/><circle cx="534.9" cy="360.7" r="4.5"/><circle cx="539.4" cy="353.6" r="4.5"/><circle cx="551.1" cy="349.1" r="4.5"/><circle cx="551.1" cy="344.9" r="4.5"/><circle cx="559.8" cy="346.2" r="4.5"/></g>
<g fill="#668df5"><circle cx="602.2" cy="248" r="4.5"/><circle cx="635.8" cy="243.8" r="4.5"/><circle cx="623.5" cy="269.6" r="4.5"/><circle cx="619" cy="278.3" r="4.5"/><circle cx="617.8" cy="287.1" r="4.5"/><circle cx="614.7" cy="296.4" r="4.5"/><circle cx="572.7" cy="300.1" r="4.5"/><circle cx="588.9" cy="295.6" r="4.5"/><circle cx="597.7" cy="295.6" r="4.5"/><circle cx="559.6" cy="313.4" r="4.5"/><circle cx="568.1" cy="317.7" r="4.5"/><circle cx="580.2" cy="310.2" r="4.5"/><circle cx="585.2" cy="306.4" r="4.5"/><circle cx="587.7" cy="312.7" r="4.5"/><circle cx="592.7" cy="313.9" r="4.5"/><circle cx="581.4" cy="315.2" r="4.5"/><circle cx="585.2" cy="320.2" r="4.5"/><circle cx="585.2" cy="326.4" r="4.5"/><circle cx="602.7" cy="303.9" r="4.5"/><circle cx="605.2" cy="305.1" r="4.5"/><circle cx="563.9" cy="326.4" r="4.5"/><circle cx="568.9" cy="327.7" r="4.5"/><circle cx="572.7" cy="331.5" r="4.5"/><circle cx="577.7" cy="332.7" r="4.5"/><circle cx="551.4" cy="339" r="4.5"/><circle cx="558.9" cy="334.7" r="4.5"/><circle cx="565.1" cy="339" r="4.5"/><circle cx="567.6" cy="341.5" r="4.5"/><circle cx="546.3" cy="347.7" r="4.5"/><circle cx="552.6" cy="347.7" r="4.5"/><circle cx="558.9" cy="347.7" r="4.5"/><circle cx="555.1" cy="354" r="4.5"/><circle cx="550.1" cy="355.3" r="4.5"/><circle cx="538.8" cy="352.8" r="4.5"/><circle cx="533.8" cy="356.5" r="4.5"/><circle cx="536.3" cy="359.8" r="4.5"/><circle cx="542.6" cy="360.3" r="4.5"/><circle cx="547.6" cy="364" r="4.5"/><circle cx="552.6" cy="357.8" r="4.5"/><circle cx="530.1" cy="365.3" r="4.5"/><circle cx="537.6" cy="367.8" r="4.5"/><circle cx="543.8" cy="367.8" r="4.5"/><circle cx="530.1" cy="375.3" r="4.5"/><circle cx="537.6" cy="375.3" r="4.5"/><circle cx="526.3" cy="387.3" r="4.5"/><circle cx="521.3" cy="391.6" r="4.5"/><circle cx="742.4" cy="120.8" r="4.5"/><circle cx="623.5" cy="230.3" r="4.5"/><circle cx="589.2" cy="295.5" r="4.5"/><circle cx="591" cy="301" r="4.5"/><circle cx="587.4" cy="304.6" r="4.5"/><circle cx="582.8" cy="307.3" r="4.5"/><circle cx="581" cy="311.9" r="4.5"/><circle cx="585.6" cy="310.1" r="4.5"/><circle cx="591" cy="307.3" r="4.5"/><circle cx="594.7" cy="312.8" r="4.5"/><circle cx="598.3" cy="295.5" r="4.5"/><circle cx="603.8" cy="303.7" r="4.5"/><circle cx="607.4" cy="303.7" r="4.5"/><circle cx="578.3" cy="331" r="4.5"/><circle cx="571.9" cy="329.2" r="4.5"/><circle cx="568.2" cy="334.7" r="4.5"/><circle cx="570.1" cy="339.2" r="4.5"/></g>
<line x1="516.3" y1="404.3" x2="822.9" y2="188.4" stroke="#323847" stroke-width="2.3" stroke-linecap="round"/>
<rect x="112.5" y="607" width="305.2" height="315.7" fill="#fbfaf9"/>
<polygon points="112.5,900.8 197.3,813.1 356.7,607 112.5,607" fill="#d9e1fc"/>
<polygon points="133.7,922.7 218.5,835 417.7,670.1 417.7,922.7" fill="#fdf2f1"/>
<path d="M97.5 922.7H432.7M112.5 592V937.7M97.5 870.1H432.7M163.4 592V937.7M97.5 817.5H432.7M214.2 592V937.7M97.5 764.9H432.7M265.1 592V937.7M97.5 712.2H432.7M316 592V937.7M97.5 659.6H432.7M366.8 592V937.7M97.5 607H432.7M417.7 592V937.7" stroke="rgba(50,60,110,0.14)" stroke-width="1.5" fill="none"/>
<g fill="#e7e3dc"><circle cx="289.3" cy="709.9" r="4.5"/><circle cx="297.7" cy="712.9" r="4.5"/><circle cx="279.3" cy="718.4" r="4.5"/><circle cx="286" cy="716.5" r="4.5"/><circle cx="293.1" cy="717.1" r="4.5"/><circle cx="300.8" cy="718" r="4.5"/><circle cx="308.4" cy="718.8" r="4.5"/><circle cx="314.2" cy="718.1" r="4.5"/><circle cx="324" cy="716.6" r="4.5"/><circle cx="328.5" cy="717.3" r="4.5"/><circle cx="267.6" cy="725.4" r="4.5"/><circle cx="276" cy="722.7" r="4.5"/><circle cx="281.6" cy="724.3" r="4.5"/><circle cx="290.5" cy="722.2" r="4.5"/><circle cx="297.6" cy="724.6" r="4.5"/><circle cx="305" cy="722.9" r="4.5"/><circle cx="312.1" cy="724.1" r="4.5"/><circle cx="319.8" cy="722.6" r="4.5"/><circle cx="327.5" cy="725.3" r="4.5"/><circle cx="264.9" cy="728.9" r="4.5"/><circle cx="273.6" cy="728.4" r="4.5"/><circle cx="280.1" cy="729.2" r="4.5"/><circle cx="286.7" cy="730.3" r="4.5"/><circle cx="294.8" cy="728.8" r="4.5"/><circle cx="300.4" cy="728.8" r="4.5"/><circle cx="310.1" cy="728.9" r="4.5"/><circle cx="314.5" cy="730.1" r="4.5"/><circle cx="323.2" cy="731.4" r="4.5"/><circle cx="328.6" cy="729.2" r="4.5"/><circle cx="260.9" cy="735.4" r="4.5"/><circle cx="268.4" cy="736.4" r="4.5"/><circle cx="276.7" cy="734.9" r="4.5"/><circle cx="284.1" cy="736.7" r="4.5"/><circle cx="290.4" cy="736.9" r="4.5"/><circle cx="298.7" cy="734.7" r="4.5"/><circle cx="304.8" cy="736.9" r="4.5"/><circle cx="312.8" cy="736.8" r="4.5"/><circle cx="318.2" cy="737.9" r="4.5"/><circle cx="327.5" cy="735.4" r="4.5"/><circle cx="259.7" cy="741.6" r="4.5"/><circle cx="266.2" cy="741.9" r="4.5"/><circle cx="271.7" cy="743.7" r="4.5"/><circle cx="280" cy="743.8" r="4.5"/><circle cx="288.2" cy="742.9" r="4.5"/><circle cx="293.1" cy="740.9" r="4.5"/><circle cx="301.4" cy="743.4" r="4.5"/><circle cx="307.7" cy="741.1" r="4.5"/><circle cx="314" cy="741.5" r="4.5"/><circle cx="323.6" cy="740.9" r="4.5"/><circle cx="254.8" cy="747.8" r="4.5"/><circle cx="262.4" cy="749.9" r="4.5"/><circle cx="269.9" cy="747.9" r="4.5"/><circle cx="274.7" cy="749.4" r="4.5"/><circle cx="283.5" cy="747.6" r="4.5"/><circle cx="289.5" cy="749.1" r="4.5"/><circle cx="296.4" cy="749.3" r="4.5"/><circle cx="304" cy="748" r="4.5"/><circle cx="311.8" cy="749" r="4.5"/><circle cx="320.1" cy="747.3" r="4.5"/><circle cx="249.6" cy="753.7" r="4.5"/><circle cx="257.7" cy="755.1" r="4.5"/><circle cx="264.5" cy="755.7" r="4.5"/><circle cx="271.6" cy="754.5" r="4.5"/><circle cx="279.6" cy="755.8" r="4.5"/><circle cx="287.8" cy="754.7" r="4.5"/><circle cx="293.9" cy="756.6" r="4.5"/><circle cx="302.8" cy="755.5" r="4.5"/><circle cx="307.2" cy="755" r="4.5"/><circle cx="248.9" cy="761.7" r="4.5"/><circle cx="253.8" cy="761.3" r="4.5"/><circle cx="262.4" cy="762.2" r="4.5"/><circle cx="267.6" cy="760.3" r="4.5"/><circle cx="277.7" cy="760" r="4.5"/><circle cx="284.4" cy="760.8" r="4.5"/><circle cx="289.6" cy="760.5" r="4.5"/><circle cx="297.6" cy="763" r="4.5"/><circle cx="303.7" cy="762.6" r="4.5"/><circle cx="242.5" cy="767.8" r="4.5"/><circle cx="250.3" cy="768.7" r="4.5"/><circle cx="257.6" cy="768.8" r="4.5"/><circle cx="266.5" cy="768.9" r="4.5"/><circle cx="271.3" cy="769.1" r="4.5"/><circle cx="280.5" cy="768.2" r="4.5"/><circle cx="287.4" cy="766.1" r="4.5"/><circle cx="295.4" cy="767.8" r="4.5"/><circle cx="301.1" cy="767.1" r="4.5"/><circle cx="240.8" cy="772.6" r="4.5"/><circle cx="248.7" cy="772.3" r="4.5"/><circle cx="254.8" cy="773.7" r="4.5"/><circle cx="262.4" cy="773.7" r="4.5"/><circle cx="267.5" cy="774" r="4.5"/><circle cx="277.2" cy="774.9" r="4.5"/><circle cx="282.8" cy="773" r="4.5"/><circle cx="291.3" cy="774.9" r="4.5"/><circle cx="229.6" cy="779.3" r="4.5"/><circle cx="235.7" cy="779.9" r="4.5"/><circle cx="243.7" cy="780.1" r="4.5"/><circle cx="249.5" cy="778.5" r="4.5"/><circle cx="257.6" cy="780.9" r="4.5"/><circle cx="266.1" cy="779.3" r="4.5"/><circle cx="271.7" cy="780.2" r="4.5"/><circle cx="278.6" cy="780.5" r="4.5"/><circle cx="224.7" cy="786.7" r="4.5"/><circle cx="231.7" cy="785.3" r="4.5"/><circle cx="238.6" cy="787.1" r="4.5"/><circle cx="248.9" cy="786.1" r="4.5"/><circle cx="254" cy="786.2" r="4.5"/><circle cx="261.2" cy="787.1" r="4.5"/><circle cx="268.5" cy="785.2" r="4.5"/><circle cx="277.3" cy="786.7" r="4.5"/><circle cx="221.3" cy="792.3" r="4.5"/><circle cx="228.9" cy="792.2" r="4.5"/><circle cx="237.9" cy="792.8" r="4.5"/><circle cx="242.9" cy="792.1" r="4.5"/><circle cx="252" cy="791.5" r="4.5"/><circle cx="258.7" cy="791.1" r="4.5"/><circle cx="264.3" cy="791.2" r="4.5"/><circle cx="273.5" cy="791.5" r="4.5"/><circle cx="217.4" cy="797.9" r="4.5"/><circle cx="224.5" cy="798.5" r="4.5"/><circle cx="233.7" cy="797.5" r="4.5"/><circle cx="240.2" cy="799.6" r="4.5"/><circle cx="245.7" cy="798.8" r="4.5"/><circle cx="255.5" cy="799.2" r="4.5"/><circle cx="261.5" cy="800.3" r="4.5"/><circle cx="213.5" cy="806.7" r="4.5"/><circle cx="223" cy="804" r="4.5"/><circle cx="230.2" cy="805.5" r="4.5"/><circle cx="237.9" cy="805.5" r="4.5"/><circle cx="243.5" cy="806.7" r="4.5"/><circle cx="249.5" cy="806.2" r="4.5"/><circle cx="256.7" cy="804.5" r="4.5"/><circle cx="205.3" cy="812.8" r="4.5"/><circle cx="209.7" cy="811.4" r="4.5"/><circle cx="218.4" cy="812.2" r="4.5"/><circle cx="226.5" cy="811" r="4.5"/><circle cx="234.4" cy="810.4" r="4.5"/><circle cx="238.9" cy="812.6" r="4.5"/><circle cx="246" cy="810.4" r="4.5"/><circle cx="202.1" cy="816.5" r="4.5"/><circle cx="208" cy="819.3" r="4.5"/><circle cx="214.5" cy="817.9" r="4.5"/><circle cx="221.5" cy="816.1" r="4.5"/><circle cx="228.3" cy="816.5" r="4.5"/><circle cx="235.8" cy="818.2" r="4.5"/><circle cx="198.2" cy="824.1" r="4.5"/><circle cx="203.5" cy="825.6" r="4.5"/><circle cx="211" cy="824.7" r="4.5"/><circle cx="217" cy="825.1" r="4.5"/><circle cx="227.3" cy="822.7" r="4.5"/><circle cx="233.7" cy="823.2" r="4.5"/><circle cx="191.8" cy="828.9" r="4.5"/><circle cx="199.9" cy="828.9" r="4.5"/><circle cx="208.2" cy="830" r="4.5"/><circle cx="214.2" cy="830.3" r="4.5"/><circle cx="223.6" cy="829.4" r="4.5"/><circle cx="182.5" cy="836.5" r="4.5"/><circle cx="188.7" cy="837.1" r="4.5"/><circle cx="196.9" cy="837.6" r="4.5"/><circle cx="203.4" cy="838" r="4.5"/><circle cx="212.4" cy="836.5" r="4.5"/><circle cx="217.3" cy="836.5" r="4.5"/><circle cx="171.9" cy="841.8" r="4.5"/><circle cx="179" cy="842.8" r="4.5"/><circle cx="185.5" cy="842.4" r="4.5"/><circle cx="193.3" cy="843.1" r="4.5"/><circle cx="199.6" cy="842.1" r="4.5"/><circle cx="207.7" cy="842.8" r="4.5"/><circle cx="168.9" cy="849" r="4.5"/><circle cx="174.9" cy="848.3" r="4.5"/><circle cx="182.5" cy="849.8" r="4.5"/><circle cx="191" cy="850.3" r="4.5"/><circle cx="198.2" cy="848.9" r="4.5"/><circle cx="203.8" cy="848.4" r="4.5"/><circle cx="163.5" cy="854.7" r="4.5"/><circle cx="171.4" cy="854.9" r="4.5"/><circle cx="180.3" cy="854" r="4.5"/><circle cx="187.8" cy="854.5" r="4.5"/><circle cx="194.5" cy="854.5" r="4.5"/><circle cx="159.5" cy="863.1" r="4.5"/><circle cx="167.7" cy="860.3" r="4.5"/><circle cx="175.8" cy="861.7" r="4.5"/><circle cx="181.9" cy="861" r="4.5"/><circle cx="190.9" cy="861.1" r="4.5"/><circle cx="151.2" cy="868.1" r="4.5"/><circle cx="158.2" cy="867.4" r="4.5"/><circle cx="164.3" cy="869.5" r="4.5"/><circle cx="172.8" cy="868.4" r="4.5"/><circle cx="177.6" cy="868.2" r="4.5"/><circle cx="184.5" cy="869.3" r="4.5"/><circle cx="146.4" cy="873.1" r="4.5"/><circle cx="155.3" cy="873.4" r="4.5"/><circle cx="161.7" cy="875.3" r="4.5"/><circle cx="167.2" cy="874.8" r="4.5"/><circle cx="174.9" cy="873.2" r="4.5"/><circle cx="181.5" cy="875.7" r="4.5"/><circle cx="143.5" cy="881.9" r="4.5"/><circle cx="149" cy="879" r="4.5"/><circle cx="157" cy="880.4" r="4.5"/><circle cx="163.3" cy="879.4" r="4.5"/><circle cx="172.9" cy="880" r="4.5"/><circle cx="177.7" cy="879.3" r="4.5"/><circle cx="154.7" cy="888.3" r="4.5"/><circle cx="159.9" cy="885.1" r="4.5"/><circle cx="169" cy="886.4" r="4.5"/><circle cx="150.9" cy="891.5" r="4.5"/><circle cx="158.8" cy="891.3" r="4.5"/><circle cx="165.3" cy="892.5" r="4.5"/><circle cx="137.2" cy="884.5" r="4.5"/><circle cx="140.6" cy="878.8" r="4.5"/><circle cx="145" cy="875" r="4.5"/><circle cx="148.4" cy="868.6" r="4.5"/><circle cx="155.1" cy="864" r="4.5"/><circle cx="161.8" cy="855.3" r="4.5"/><circle cx="169.7" cy="846.2" r="4.5"/><circle cx="175.6" cy="838.7" r="4.5"/><circle cx="186" cy="832.5" r="4.5"/><circle cx="196.2" cy="822.7" r="4.5"/><circle cx="201.8" cy="817.1" r="4.5"/><circle cx="206.6" cy="811.8" r="4.5"/><circle cx="211.6" cy="804.2" r="4.5"/><circle cx="217.2" cy="798.7" r="4.5"/><circle cx="224.1" cy="788.9" r="4.5"/><circle cx="229.8" cy="782.5" r="4.5"/><circle cx="236.9" cy="775.7" r="4.5"/><circle cx="239.7" cy="769.1" r="4.5"/><circle cx="243.3" cy="765" r="4.5"/><circle cx="245.6" cy="759.2" r="4.5"/><circle cx="249.3" cy="753.1" r="4.5"/><circle cx="254.2" cy="747.6" r="4.5"/><circle cx="259.8" cy="736.9" r="4.5"/><circle cx="264.6" cy="732.7" r="4.5"/><circle cx="266.9" cy="726.8" r="4.5"/><circle cx="271.5" cy="721.4" r="4.5"/><circle cx="277.6" cy="717.5" r="4.5"/><circle cx="279.4" cy="713" r="4.5"/><circle cx="290" cy="710.3" r="4.5"/><circle cx="296.5" cy="712.1" r="4.5"/><circle cx="302" cy="713.7" r="4.5"/><circle cx="309.5" cy="714.5" r="4.5"/><circle cx="315" cy="716.2" r="4.5"/><circle cx="322" cy="715.7" r="4.5"/><circle cx="325.2" cy="715.8" r="4.5"/><circle cx="328.4" cy="721.1" r="4.5"/><circle cx="332.1" cy="723.1" r="4.5"/><circle cx="330.6" cy="733.3" r="4.5"/><circle cx="327.8" cy="739.6" r="4.5"/><circle cx="319.4" cy="745.2" r="4.5"/><circle cx="313.6" cy="753.2" r="4.5"/><circle cx="307.4" cy="760.8" r="4.5"/><circle cx="302" cy="767.1" r="4.5"/><circle cx="295.3" cy="770.9" r="4.5"/><circle cx="288.2" cy="777.7" r="4.5"/><circle cx="280.4" cy="782.6" r="4.5"/><circle cx="274.1" cy="788.5" r="4.5"/><circle cx="263.9" cy="796" r="4.5"/><circle cx="256.1" cy="805.5" r="4.5"/><circle cx="248.4" cy="809" r="4.5"/><circle cx="242.7" cy="814.7" r="4.5"/><circle cx="236.7" cy="819.9" r="4.5"/><circle cx="232.9" cy="823.9" r="4.5"/><circle cx="223" cy="831.6" r="4.5"/><circle cx="211" cy="840.5" r="4.5"/><circle cx="204.5" cy="849" r="4.5"/><circle cx="194.2" cy="857.3" r="4.5"/><circle cx="189.3" cy="863.8" r="4.5"/><circle cx="184" cy="870.4" r="4.5"/><circle cx="178.7" cy="876.7" r="4.5"/><circle cx="172.7" cy="882.3" r="4.5"/><circle cx="169" cy="888.9" r="4.5"/><circle cx="161.1" cy="893" r="4.5"/><circle cx="155.9" cy="890.5" r="4.5"/><circle cx="151.8" cy="891.4" r="4.5"/><circle cx="142.6" cy="883.9" r="4.5"/><circle cx="135.1" cy="885.1" r="4.5"/><circle cx="134.5" cy="885.9" r="4.5"/></g>
<g fill="#e7e3dc"><circle cx="404.2" cy="607" r="4.5"/><circle cx="417.9" cy="607" r="4.5"/><circle cx="414.2" cy="611.3" r="4.5"/><circle cx="357.8" cy="620.1" r="4.5"/><circle cx="366.6" cy="628.8" r="4.5"/><circle cx="417.9" cy="623.8" r="4.5"/><circle cx="412.9" cy="628.8" r="4.5"/><circle cx="336.5" cy="650.1" r="4.5"/><circle cx="341.5" cy="654.6" r="4.5"/><circle cx="320.2" cy="658.9" r="4.5"/><circle cx="328.2" cy="663.9" r="4.5"/><circle cx="349.5" cy="659.7" r="4.5"/><circle cx="375.3" cy="663.9" r="4.5"/><circle cx="375.3" cy="670.2" r="4.5"/><circle cx="384.1" cy="667.7" r="4.5"/><circle cx="392.4" cy="672.7" r="4.5"/><circle cx="371.6" cy="681.5" r="4.5"/><circle cx="379.1" cy="681.5" r="4.5"/><circle cx="311.5" cy="672.7" r="4.5"/><circle cx="324" cy="677.2" r="4.5"/><circle cx="315.2" cy="681.5" r="4.5"/><circle cx="341.5" cy="681.5" r="4.5"/><circle cx="336.5" cy="690.2" r="4.5"/><circle cx="354.1" cy="690.2" r="4.5"/><circle cx="362.8" cy="694" r="4.5"/><circle cx="375.3" cy="702.8" r="4.5"/><circle cx="370.3" cy="700.2" r="4.5"/><circle cx="295.2" cy="694" r="4.5"/><circle cx="311.5" cy="694" r="4.5"/><circle cx="329" cy="697.7" r="4.5"/><circle cx="334" cy="701.5" r="4.5"/><circle cx="319" cy="702.8" r="4.5"/><circle cx="345.3" cy="702.8" r="4.5"/><circle cx="350.3" cy="705.3" r="4.5"/><circle cx="357.8" cy="702.8" r="4.5"/><circle cx="346.5" cy="707.8" r="4.5"/><circle cx="356.6" cy="716.5" r="4.5"/><circle cx="345.3" cy="720.3" r="4.5"/><circle cx="332.8" cy="720.3" r="4.5"/><circle cx="282.6" cy="706.5" r="4.5"/><circle cx="290.2" cy="702.8" r="4.5"/><circle cx="300.2" cy="702.8" r="4.5"/><circle cx="305.2" cy="704" r="4.5"/><circle cx="280.1" cy="714" r="4.5"/><circle cx="272.6" cy="715.3" r="4.5"/><circle cx="286.4" cy="720.3" r="4.5"/><circle cx="295.2" cy="716.5" r="4.5"/><circle cx="306.4" cy="712.8" r="4.5"/><circle cx="312.7" cy="710.3" r="4.5"/><circle cx="320.2" cy="712.8" r="4.5"/><circle cx="322.7" cy="717.8" r="4.5"/><circle cx="316.5" cy="720.3" r="4.5"/><circle cx="306.4" cy="722.8" r="4.5"/><circle cx="320.2" cy="726.6" r="4.5"/><circle cx="325.2" cy="739.1" r="4.5"/><circle cx="319" cy="746.6" r="4.5"/><circle cx="267.6" cy="735.3" r="4.5"/><circle cx="277.6" cy="727.8" r="4.5"/><circle cx="285.1" cy="730.3" r="4.5"/><circle cx="295.2" cy="729.1" r="4.5"/><circle cx="305.2" cy="732.8" r="4.5"/><circle cx="310.2" cy="735.3" r="4.5"/><circle cx="262.6" cy="740.3" r="4.5"/><circle cx="270.1" cy="742.8" r="4.5"/><circle cx="280.1" cy="740.3" r="4.5"/><circle cx="290.2" cy="737.8" r="4.5"/><circle cx="300.2" cy="740.3" r="4.5"/><circle cx="307.7" cy="745.3" r="4.5"/><circle cx="358.4" cy="621.4" r="4.5"/><circle cx="366.6" cy="628.9" r="4.5"/><circle cx="337.2" cy="650.8" r="4.5"/><circle cx="342" cy="654.9" r="4.5"/><circle cx="349.5" cy="659.6" r="4.5"/><circle cx="320.1" cy="659.6" r="4.5"/><circle cx="328.3" cy="663.7" r="4.5"/><circle cx="311.9" cy="672.6" r="4.5"/><circle cx="324.2" cy="676.7" r="4.5"/><circle cx="316" cy="681.5" r="4.5"/><circle cx="341.3" cy="680.8" r="4.5"/><circle cx="337.2" cy="689.7" r="4.5"/><circle cx="354.3" cy="689.7" r="4.5"/><circle cx="362.5" cy="694.5" r="4.5"/><circle cx="374.8" cy="665.1" r="4.5"/><circle cx="374.8" cy="670.6" r="4.5"/><circle cx="371.4" cy="681.5" r="4.5"/><circle cx="377.5" cy="681.5" r="4.5"/><circle cx="294.9" cy="694.5" r="4.5"/><circle cx="311.3" cy="694.5" r="4.5"/><circle cx="328.3" cy="698.6" r="4.5"/><circle cx="333.8" cy="702" r="4.5"/><circle cx="290.1" cy="702" r="4.5"/><circle cx="301" cy="702.7" r="4.5"/><circle cx="305.1" cy="702.7" r="4.5"/><circle cx="320.1" cy="702.7" r="4.5"/><circle cx="344.7" cy="702" r="4.5"/><circle cx="348.8" cy="703.4" r="4.5"/><circle cx="352.9" cy="703.4" r="4.5"/><circle cx="358.4" cy="702" r="4.5"/><circle cx="374.8" cy="702" r="4.5"/><circle cx="280.5" cy="707.5" r="4.5"/><circle cx="294.2" cy="708.8" r="4.5"/><circle cx="302.4" cy="709.5" r="4.5"/><circle cx="311.9" cy="707.5" r="4.5"/><circle cx="322.9" cy="708.8" r="4.5"/><circle cx="331.1" cy="707.5" r="4.5"/><circle cx="336.5" cy="708.8" r="4.5"/><circle cx="343.4" cy="707.5" r="4.5"/><circle cx="273.7" cy="715.7" r="4.5"/><circle cx="284.6" cy="714.3" r="4.5"/><circle cx="295.5" cy="715.7" r="4.5"/><circle cx="305.1" cy="712.9" r="4.5"/><circle cx="314.7" cy="715.7" r="4.5"/><circle cx="324.2" cy="714.3" r="4.5"/><circle cx="333.8" cy="719.8" r="4.5"/><circle cx="344.7" cy="719.8" r="4.5"/><circle cx="352.9" cy="715.7" r="4.5"/><circle cx="358.4" cy="715.7" r="4.5"/><circle cx="268.2" cy="732.1" r="4.5"/><circle cx="276.4" cy="729.3" r="4.5"/><circle cx="287.3" cy="723.9" r="4.5"/><circle cx="295.5" cy="723.9" r="4.5"/><circle cx="305.1" cy="723.9" r="4.5"/><circle cx="317.4" cy="723.9" r="4.5"/><circle cx="322.9" cy="726.6" r="4.5"/><circle cx="287.3" cy="733.4" r="4.5"/><circle cx="301" cy="733.4" r="4.5"/><circle cx="309.2" cy="733.4" r="4.5"/><circle cx="321.5" cy="736.2" r="4.5"/><circle cx="120" cy="917.9" r="4.5"/><circle cx="132.6" cy="914.2" r="4.5"/><circle cx="120.5" cy="917.5" r="4.5"/><circle cx="133" cy="913.5" r="4.5"/><circle cx="142.1" cy="909" r="4.5"/><circle cx="149" cy="909" r="4.5"/><circle cx="145.6" cy="903.3" r="4.5"/><circle cx="150.1" cy="902.1" r="4.5"/><circle cx="152.4" cy="905.6" r="4.5"/><circle cx="125.1" cy="901" r="4.5"/><circle cx="123.9" cy="890.8" r="4.5"/><circle cx="129.6" cy="897.6" r="4.5"/><circle cx="134.2" cy="896.4" r="4.5"/><circle cx="139.9" cy="897.6" r="4.5"/><circle cx="134.2" cy="879.4" r="4.5"/><circle cx="118.2" cy="894.2" r="4.5"/><circle cx="121.6" cy="882.8" r="4.5"/><circle cx="128.5" cy="873.7" r="4.5"/><circle cx="313" cy="672.7" r="4.5"/><circle cx="315.5" cy="682.7" r="4.5"/><circle cx="300.5" cy="695.2" r="4.5"/><circle cx="310.5" cy="695.2" r="4.5"/><circle cx="290.4" cy="700.2" r="4.5"/><circle cx="297.9" cy="704" r="4.5"/><circle cx="305.5" cy="707.8" r="4.5"/><circle cx="315.5" cy="707.8" r="4.5"/><circle cx="285.4" cy="707.8" r="4.5"/><circle cx="275.4" cy="715.3" r="4.5"/><circle cx="285.4" cy="715.3" r="4.5"/><circle cx="295.4" cy="715.3" r="4.5"/><circle cx="305.5" cy="715.3" r="4.5"/><circle cx="315.5" cy="715.3" r="4.5"/><circle cx="280.4" cy="722.8" r="4.5"/><circle cx="290.4" cy="722.8" r="4.5"/><circle cx="300.5" cy="722.8" r="4.5"/><circle cx="310.5" cy="722.8" r="4.5"/><circle cx="262.9" cy="730.3" r="4.5"/><circle cx="272.9" cy="730.3" r="4.5"/><circle cx="282.9" cy="730.3" r="4.5"/><circle cx="292.9" cy="730.3" r="4.5"/><circle cx="303" cy="730.3" r="4.5"/><circle cx="313" cy="730.3" r="4.5"/><circle cx="257.9" cy="740.3" r="4.5"/><circle cx="267.9" cy="737.8" r="4.5"/><circle cx="277.9" cy="737.8" r="4.5"/><circle cx="287.9" cy="737.8" r="4.5"/><circle cx="297.9" cy="737.8" r="4.5"/><circle cx="308" cy="737.8" r="4.5"/><circle cx="318" cy="737.8" r="4.5"/></g>
<g fill="#e8a7a7"><circle cx="306" cy="774.4" r="4.5"/><circle cx="298.8" cy="779.2" r="4.5"/><circle cx="303.9" cy="778.3" r="4.5"/><circle cx="311.8" cy="780.2" r="4.5"/><circle cx="294.3" cy="784" r="4.5"/><circle cx="299.8" cy="785.3" r="4.5"/><circle cx="308" cy="782.9" r="4.5"/><circle cx="283.2" cy="788.4" r="4.5"/><circle cx="291.8" cy="790.5" r="4.5"/><circle cx="297.2" cy="791.3" r="4.5"/><circle cx="305.1" cy="789.2" r="4.5"/><circle cx="308.9" cy="790" r="4.5"/><circle cx="274.5" cy="796.2" r="4.5"/><circle cx="281.1" cy="796.3" r="4.5"/><circle cx="288.2" cy="796.5" r="4.5"/><circle cx="296.1" cy="795" r="4.5"/><circle cx="302.5" cy="793.7" r="4.5"/><circle cx="270.8" cy="799.6" r="4.5"/><circle cx="277.6" cy="801" r="4.5"/><circle cx="284" cy="802.3" r="4.5"/><circle cx="292.7" cy="800.2" r="4.5"/><circle cx="298.4" cy="801.6" r="4.5"/><circle cx="263.8" cy="807.9" r="4.5"/><circle cx="267.2" cy="807.2" r="4.5"/><circle cx="274.3" cy="806.7" r="4.5"/><circle cx="282.7" cy="806" r="4.5"/><circle cx="288" cy="807.1" r="4.5"/><circle cx="293.4" cy="807" r="4.5"/><circle cx="260.2" cy="812.9" r="4.5"/><circle cx="265" cy="812.7" r="4.5"/><circle cx="271.7" cy="813" r="4.5"/><circle cx="276.8" cy="813.6" r="4.5"/><circle cx="284.4" cy="813.1" r="4.5"/><circle cx="291.1" cy="813.2" r="4.5"/><circle cx="296.9" cy="812.3" r="4.5"/><circle cx="254.5" cy="819.4" r="4.5"/><circle cx="261.1" cy="819.2" r="4.5"/><circle cx="270" cy="818.5" r="4.5"/><circle cx="273.6" cy="818.3" r="4.5"/><circle cx="281.6" cy="817.7" r="4.5"/><circle cx="286.8" cy="817.7" r="4.5"/><circle cx="247.5" cy="824.3" r="4.5"/><circle cx="254.4" cy="822" r="4.5"/><circle cx="258.2" cy="821.9" r="4.5"/><circle cx="266.4" cy="824.1" r="4.5"/><circle cx="272.5" cy="824.2" r="4.5"/><circle cx="278.5" cy="823.5" r="4.5"/><circle cx="286.2" cy="823.8" r="4.5"/><circle cx="237.5" cy="829.8" r="4.5"/><circle cx="243.1" cy="828.4" r="4.5"/><circle cx="248.7" cy="829.8" r="4.5"/><circle cx="257.2" cy="830" r="4.5"/><circle cx="261.1" cy="829.1" r="4.5"/><circle cx="232" cy="833.1" r="4.5"/><circle cx="240.2" cy="833.3" r="4.5"/><circle cx="245.7" cy="834.8" r="4.5"/><circle cx="254.2" cy="834.4" r="4.5"/><circle cx="258.4" cy="834.7" r="4.5"/><circle cx="224.7" cy="839.7" r="4.5"/><circle cx="228.9" cy="839.1" r="4.5"/><circle cx="235.8" cy="841" r="4.5"/><circle cx="243.4" cy="839.4" r="4.5"/><circle cx="248.7" cy="839.2" r="4.5"/><circle cx="213" cy="847.2" r="4.5"/><circle cx="219.2" cy="845.9" r="4.5"/><circle cx="226.7" cy="844.5" r="4.5"/><circle cx="233.4" cy="847" r="4.5"/><circle cx="239.1" cy="844.4" r="4.5"/><circle cx="246.8" cy="846.1" r="4.5"/><circle cx="212.2" cy="849.7" r="4.5"/><circle cx="217" cy="852.6" r="4.5"/><circle cx="225.2" cy="852.5" r="4.5"/><circle cx="231.3" cy="851.2" r="4.5"/><circle cx="237.8" cy="851.3" r="4.5"/><circle cx="241.9" cy="850.3" r="4.5"/><circle cx="206.6" cy="855.6" r="4.5"/><circle cx="216" cy="855.1" r="4.5"/><circle cx="221.9" cy="856.8" r="4.5"/><circle cx="227.4" cy="856.8" r="4.5"/><circle cx="196.7" cy="863.6" r="4.5"/><circle cx="205.5" cy="862.2" r="4.5"/><circle cx="212.4" cy="861" r="4.5"/><circle cx="217" cy="863" r="4.5"/><circle cx="195.5" cy="867.1" r="4.5"/><circle cx="202.4" cy="868.4" r="4.5"/><circle cx="208.7" cy="867.7" r="4.5"/><circle cx="192.2" cy="872.9" r="4.5"/><circle cx="183.8" cy="878.7" r="4.5"/><circle cx="187.7" cy="878.6" r="4.5"/><circle cx="180.1" cy="884.4" r="4.5"/><circle cx="185.5" cy="885.1" r="4.5"/><circle cx="175.2" cy="891" r="4.5"/><circle cx="180.7" cy="889.2" r="4.5"/><circle cx="171.3" cy="895.7" r="4.5"/><circle cx="180.3" cy="886.4" r="4.5"/><circle cx="185.8" cy="879.9" r="4.5"/><circle cx="189.4" cy="873.3" r="4.5"/><circle cx="194.1" cy="868.2" r="4.5"/><circle cx="199.5" cy="863" r="4.5"/><circle cx="202.5" cy="857.6" r="4.5"/><circle cx="212.4" cy="849.4" r="4.5"/><circle cx="219.3" cy="844.2" r="4.5"/><circle cx="228.7" cy="837.3" r="4.5"/><circle cx="236.7" cy="829.8" r="4.5"/><circle cx="243.3" cy="822" r="4.5"/><circle cx="252.3" cy="816" r="4.5"/><circle cx="261.7" cy="808.6" r="4.5"/><circle cx="268.9" cy="799.4" r="4.5"/><circle cx="276.8" cy="794" r="4.5"/><circle cx="285" cy="787.6" r="4.5"/><circle cx="293.2" cy="780.2" r="4.5"/><circle cx="297.8" cy="777.4" r="4.5"/><circle cx="302.6" cy="772.2" r="4.5"/><circle cx="310.5" cy="768.6" r="4.5"/><circle cx="310.2" cy="770.2" r="4.5"/><circle cx="313.5" cy="774.1" r="4.5"/><circle cx="312.2" cy="781.3" r="4.5"/><circle cx="310.5" cy="787.7" r="4.5"/><circle cx="303.8" cy="795" r="4.5"/><circle cx="298.9" cy="805.5" r="4.5"/><circle cx="294" cy="812.2" r="4.5"/><circle cx="288.8" cy="818.5" r="4.5"/><circle cx="286" cy="822.5" r="4.5"/><circle cx="280.5" cy="824.8" r="4.5"/><circle cx="270.7" cy="824.4" r="4.5"/><circle cx="261.2" cy="830.6" r="4.5"/><circle cx="253.9" cy="838.5" r="4.5"/><circle cx="246.4" cy="846.9" r="4.5"/><circle cx="245.8" cy="850.4" r="4.5"/><circle cx="244.4" cy="852.5" r="4.5"/><circle cx="230.1" cy="857.2" r="4.5"/><circle cx="234" cy="857.8" r="4.5"/><circle cx="226.3" cy="860.7" r="4.5"/><circle cx="213.7" cy="863.4" r="4.5"/><circle cx="211.8" cy="866.8" r="4.5"/><circle cx="203.1" cy="870.7" r="4.5"/><circle cx="195.6" cy="874.5" r="4.5"/><circle cx="190.1" cy="880.4" r="4.5"/><circle cx="185.5" cy="885.4" r="4.5"/><circle cx="183.5" cy="888" r="4.5"/><circle cx="176.2" cy="890" r="4.5"/><circle cx="167.7" cy="894.5" r="4.5"/></g>
<g fill="#e8a7a7"><circle cx="417.9" cy="620.1" r="4.5"/><circle cx="417.9" cy="686" r="4.5"/><circle cx="387.9" cy="699" r="4.5"/><circle cx="366.6" cy="716.5" r="4.5"/><circle cx="375.3" cy="720.3" r="4.5"/><circle cx="366.6" cy="734.1" r="4.5"/><circle cx="384.1" cy="734.1" r="4.5"/><circle cx="345.3" cy="734.1" r="4.5"/><circle cx="345.3" cy="739.1" r="4.5"/><circle cx="352.8" cy="742.3" r="4.5"/><circle cx="359.1" cy="742.3" r="4.5"/><circle cx="332.8" cy="742.3" r="4.5"/><circle cx="332.8" cy="747.9" r="4.5"/><circle cx="325.2" cy="751.6" r="4.5"/><circle cx="315.2" cy="755.4" r="4.5"/><circle cx="336.5" cy="755.4" r="4.5"/><circle cx="341.5" cy="760.4" r="4.5"/><circle cx="366.6" cy="760.4" r="4.5"/><circle cx="345.3" cy="769.2" r="4.5"/><circle cx="332.8" cy="769.2" r="4.5"/><circle cx="303.9" cy="769.2" r="4.5"/><circle cx="309" cy="772.9" r="4.5"/><circle cx="295.2" cy="774.2" r="4.5"/><circle cx="294.7" cy="773.1" r="4.5"/><circle cx="302.7" cy="768.8" r="4.5"/><circle cx="307.7" cy="770.1" r="4.5"/><circle cx="314" cy="773.8" r="4.5"/><circle cx="316.5" cy="777.6" r="4.5"/><circle cx="325.2" cy="782.1" r="4.5"/><circle cx="332.8" cy="768.8" r="4.5"/><circle cx="337.3" cy="777.6" r="4.5"/><circle cx="345.3" cy="768.8" r="4.5"/><circle cx="316" cy="790.1" r="4.5"/><circle cx="324.7" cy="798.9" r="4.5"/><circle cx="324.7" cy="803.9" r="4.5"/><circle cx="324.7" cy="812.7" r="4.5"/><circle cx="341.5" cy="795.6" r="4.5"/><circle cx="311.5" cy="817.2" r="4.5"/><circle cx="302.7" cy="812.7" r="4.5"/><circle cx="295.2" cy="816.4" r="4.5"/><circle cx="290.2" cy="822.7" r="4.5"/><circle cx="286.4" cy="825.2" r="4.5"/><circle cx="277.6" cy="830.2" r="4.5"/><circle cx="265.1" cy="834.7" r="4.5"/><circle cx="290.7" cy="847.8" r="4.5"/><circle cx="269.6" cy="856.5" r="4.5"/><circle cx="252.6" cy="860.3" r="4.5"/><circle cx="245.1" cy="855.3" r="4.5"/><circle cx="235" cy="860.3" r="4.5"/><circle cx="231.3" cy="869.1" r="4.5"/><circle cx="235.5" cy="878.3" r="4.5"/><circle cx="239.5" cy="887.4" r="4.5"/><circle cx="220" cy="865.3" r="4.5"/><circle cx="290.2" cy="847.5" r="4.5"/><circle cx="269" cy="856.4" r="4.5"/><circle cx="312.1" cy="817.4" r="4.5"/><circle cx="231.4" cy="869.3" r="4.5"/><circle cx="235.5" cy="876.9" r="4.5"/><circle cx="264.9" cy="834.5" r="4.5"/><circle cx="251.9" cy="861.1" r="4.5"/><circle cx="305.2" cy="813.3" r="4.5"/><circle cx="313.4" cy="791.4" r="4.5"/><circle cx="294.7" cy="772.9" r="4.5"/><circle cx="301.5" cy="768.3" r="4.5"/><circle cx="308.3" cy="772.9" r="4.5"/><circle cx="314" cy="779.7" r="4.5"/><circle cx="322" cy="782" r="4.5"/><circle cx="315.2" cy="754.7" r="4.5"/><circle cx="317.4" cy="759.2" r="4.5"/><circle cx="310.6" cy="766.1" r="4.5"/><circle cx="331.1" cy="742.1" r="4.5"/><circle cx="333.4" cy="747.8" r="4.5"/><circle cx="326.6" cy="751.3" r="4.5"/><circle cx="336.8" cy="754.7" r="4.5"/><circle cx="339.1" cy="760.4" r="4.5"/><circle cx="332.3" cy="768.3" r="4.5"/><circle cx="336.8" cy="777.4" r="4.5"/><circle cx="315.2" cy="790" r="4.5"/><circle cx="324.3" cy="797.9" r="4.5"/><circle cx="339.1" cy="794.5" r="4.5"/><circle cx="239.1" cy="887.4" r="4.5"/><circle cx="235.3" cy="879.1" r="4.5"/><circle cx="230.3" cy="869.1" r="4.5"/><circle cx="217.8" cy="869.1" r="4.5"/><circle cx="205.2" cy="882.8" r="4.5"/><circle cx="196.5" cy="891.6" r="4.5"/><circle cx="183.9" cy="900.4" r="4.5"/><circle cx="172.7" cy="897.9" r="4.5"/><circle cx="158.9" cy="902.9" r="4.5"/><circle cx="158.9" cy="910.4" r="4.5"/><circle cx="146.4" cy="917.9" r="4.5"/><circle cx="250.3" cy="860.3" r="4.5"/><circle cx="269.1" cy="856.5" r="4.5"/><circle cx="264.1" cy="834" r="4.5"/><circle cx="290.4" cy="847.8" r="4.5"/><circle cx="311.7" cy="817.7" r="4.5"/><circle cx="277.9" cy="830.2" r="4.5"/><circle cx="286.7" cy="825.2" r="4.5"/></g>
<g fill="#668df5"><circle cx="203.1" cy="779.4" r="4.5"/><circle cx="208.1" cy="778.1" r="4.5"/><circle cx="215.5" cy="776.8" r="4.5"/><circle cx="198.4" cy="783.8" r="4.5"/><circle cx="206.3" cy="783.6" r="4.5"/><circle cx="212.4" cy="782.5" r="4.5"/><circle cx="197.8" cy="788.1" r="4.5"/><circle cx="202.9" cy="790.9" r="4.5"/><circle cx="194.7" cy="793.9" r="4.5"/><circle cx="200.9" cy="793.9" r="4.5"/><circle cx="191.2" cy="801.1" r="4.5"/><circle cx="195.2" cy="799.1" r="4.5"/><circle cx="185.6" cy="806.4" r="4.5"/><circle cx="184.6" cy="811.6" r="4.5"/><circle cx="188.7" cy="810.6" r="4.5"/><circle cx="196.1" cy="779.8" r="4.5"/><circle cx="203.8" cy="779.6" r="4.5"/><circle cx="210.2" cy="778.6" r="4.5"/><circle cx="215.5" cy="777.3" r="4.5"/><circle cx="215.7" cy="776.1" r="4.5"/><circle cx="211.5" cy="781" r="4.5"/><circle cx="206.8" cy="786.8" r="4.5"/><circle cx="201.8" cy="793.4" r="4.5"/><circle cx="195.8" cy="798.9" r="4.5"/><circle cx="191.4" cy="802.8" r="4.5"/><circle cx="189" cy="810.2" r="4.5"/><circle cx="184.7" cy="811.9" r="4.5"/><circle cx="179.2" cy="817.1" r="4.5"/><circle cx="174.6" cy="821.7" r="4.5"/><circle cx="174.7" cy="821.3" r="4.5"/><circle cx="177.9" cy="817.2" r="4.5"/><circle cx="181" cy="809.6" r="4.5"/><circle cx="186.6" cy="803" r="4.5"/><circle cx="191" cy="794.6" r="4.5"/><circle cx="195.9" cy="787.8" r="4.5"/></g>
<g fill="#668df5"><circle cx="235.3" cy="707.8" r="4.5"/><circle cx="239.6" cy="720.3" r="4.5"/><circle cx="235.3" cy="725.3" r="4.5"/><circle cx="247.8" cy="725.3" r="4.5"/><circle cx="252.3" cy="729.6" r="4.5"/><circle cx="244.1" cy="734.1" r="4.5"/><circle cx="239.1" cy="734.1" r="4.5"/><circle cx="235.3" cy="737.8" r="4.5"/><circle cx="184.4" cy="734.1" r="4.5"/><circle cx="205.7" cy="738.3" r="4.5"/><circle cx="217.8" cy="742.3" r="4.5"/><circle cx="222.8" cy="738.3" r="4.5"/><circle cx="227.8" cy="738.3" r="4.5"/><circle cx="231.5" cy="746.6" r="4.5"/><circle cx="244.1" cy="746.6" r="4.5"/><circle cx="226.5" cy="751.6" r="4.5"/><circle cx="239.1" cy="750.4" r="4.5"/><circle cx="206.5" cy="755.4" r="4.5"/><circle cx="210.2" cy="756.6" r="4.5"/><circle cx="217.8" cy="760.4" r="4.5"/><circle cx="225.3" cy="760.4" r="4.5"/><circle cx="201.5" cy="764.1" r="4.5"/><circle cx="215.3" cy="765.4" r="4.5"/><circle cx="222.8" cy="766.6" r="4.5"/><circle cx="180.2" cy="769.2" r="4.5"/><circle cx="205.2" cy="773.8" r="4.5"/><circle cx="197.7" cy="777.6" r="4.5"/><circle cx="201.5" cy="780.1" r="4.5"/><circle cx="192.7" cy="785.1" r="4.5"/><circle cx="202.7" cy="783.9" r="4.5"/><circle cx="210.2" cy="782.6" r="4.5"/><circle cx="215.3" cy="780.1" r="4.5"/><circle cx="220.3" cy="773.8" r="4.5"/><circle cx="226.5" cy="773.8" r="4.5"/><circle cx="172.7" cy="786.4" r="4.5"/><circle cx="176.4" cy="786.4" r="4.5"/><circle cx="183.9" cy="791.4" r="4.5"/><circle cx="180.2" cy="795.1" r="4.5"/><circle cx="190.2" cy="790.1" r="4.5"/><circle cx="192.7" cy="796.4" r="4.5"/><circle cx="196.5" cy="792.6" r="4.5"/><circle cx="200.2" cy="797.7" r="4.5"/><circle cx="195.2" cy="802.7" r="4.5"/><circle cx="190.2" cy="800.2" r="4.5"/><circle cx="150.1" cy="799.7" r="4.5"/><circle cx="163.1" cy="799.7" r="4.5"/><circle cx="171.4" cy="812.7" r="4.5"/><circle cx="175.2" cy="812.7" r="4.5"/><circle cx="180.2" cy="812.7" r="4.5"/><circle cx="172.7" cy="817.7" r="4.5"/><circle cx="177.7" cy="820.2" r="4.5"/><circle cx="185.2" cy="815.2" r="4.5"/><circle cx="189" cy="816.4" r="4.5"/><circle cx="192.7" cy="811.4" r="4.5"/><circle cx="168.9" cy="821.5" r="4.5"/><circle cx="163.9" cy="825.2" r="4.5"/><circle cx="167.7" cy="826.5" r="4.5"/><circle cx="153.9" cy="834" r="4.5"/><circle cx="155.1" cy="841.5" r="4.5"/><circle cx="162.6" cy="837.7" r="4.5"/><circle cx="171.4" cy="834" r="4.5"/><circle cx="141.3" cy="860.3" r="4.5"/><circle cx="150.1" cy="856.5" r="4.5"/><circle cx="120" cy="869.6" r="4.5"/><circle cx="125.1" cy="878.3" r="4.5"/><circle cx="133.8" cy="874.1" r="4.5"/><circle cx="354.1" cy="607" r="4.5"/><circle cx="409.2" cy="607" r="4.5"/><circle cx="294.7" cy="642.1" r="4.5"/><circle cx="285.9" cy="659.4" r="4.5"/><circle cx="307.2" cy="663.9" r="4.5"/><circle cx="294.7" cy="672.7" r="4.5"/><circle cx="273.4" cy="699" r="4.5"/><circle cx="273.4" cy="711.5" r="4.5"/></g>
<line x1="111.3" y1="904.1" x2="417.9" y2="658.2" stroke="#323847" stroke-width="2.3" stroke-linecap="round"/>
<rect x="517.1" y="606.3" width="306.1" height="316.2" fill="#fbfaf9"/>
<polygon points="517.1,900.5 602.1,812.7 762,606.3 517.1,606.3" fill="#d9e1fc"/>
<polygon points="538.4,922.5 623.4,834.7 823.2,669.5 823.2,922.5" fill="#fdf2f1"/>
<path d="M502.1 922.5H838.2M517.1 591.3V937.5M502.1 869.8H838.2M568.1 591.3V937.5M502.1 817.1H838.2M619.1 591.3V937.5M502.1 764.4H838.2M670.2 591.3V937.5M502.1 711.7H838.2M721.2 591.3V937.5M502.1 659H838.2M772.2 591.3V937.5M502.1 606.3H838.2M823.2 591.3V937.5" stroke="rgba(50,60,110,0.14)" stroke-width="1.5" fill="none"/>
<g fill="#e7e3dc"><circle cx="770.5" cy="606.3" r="4.5"/><circle cx="784.1" cy="606.3" r="4.5"/><circle cx="788.9" cy="606.3" r="4.5"/><circle cx="793.7" cy="606.3" r="4.5"/><circle cx="798.4" cy="606.3" r="4.5"/><circle cx="803.2" cy="606.3" r="4.5"/><circle cx="809.6" cy="606.3" r="4.5"/><circle cx="814.4" cy="606.3" r="4.5"/><circle cx="819.2" cy="606.3" r="4.5"/><circle cx="823.9" cy="606.3" r="4.5"/><circle cx="788.9" cy="611.6" r="4.5"/><circle cx="797.6" cy="615.5" r="4.5"/><circle cx="760.2" cy="615.5" r="4.5"/><circle cx="772.1" cy="613.9" r="4.5"/><circle cx="776.1" cy="618.7" r="4.5"/><circle cx="772.9" cy="623.5" r="4.5"/><circle cx="764.2" cy="623.5" r="4.5"/><circle cx="768.1" cy="628.3" r="4.5"/><circle cx="772.1" cy="633.1" r="4.5"/><circle cx="776.9" cy="623.5" r="4.5"/><circle cx="801.6" cy="623.5" r="4.5"/><circle cx="807.2" cy="623.5" r="4.5"/><circle cx="818.4" cy="618.7" r="4.5"/><circle cx="823.2" cy="618.7" r="4.5"/><circle cx="823.2" cy="625.1" r="4.5"/><circle cx="823.2" cy="629.9" r="4.5"/><circle cx="823.2" cy="636.3" r="4.5"/><circle cx="792.9" cy="632.3" r="4.5"/><circle cx="801.6" cy="632.3" r="4.5"/><circle cx="814.4" cy="632.3" r="4.5"/><circle cx="819.2" cy="633.1" r="4.5"/><circle cx="759.4" cy="637.1" r="4.5"/><circle cx="750.6" cy="641.1" r="4.5"/><circle cx="742.6" cy="645.8" r="4.5"/><circle cx="733.9" cy="650.6" r="4.5"/><circle cx="764.2" cy="645.8" r="4.5"/><circle cx="772.9" cy="645.8" r="4.5"/><circle cx="776.9" cy="645.8" r="4.5"/><circle cx="788.9" cy="645.8" r="4.5"/><circle cx="801.6" cy="641.1" r="4.5"/><circle cx="809.6" cy="641.1" r="4.5"/><circle cx="814.4" cy="645.8" r="4.5"/><circle cx="750.6" cy="650.6" r="4.5"/><circle cx="757.8" cy="654.6" r="4.5"/><circle cx="764.2" cy="658.6" r="4.5"/><circle cx="772.9" cy="653.8" r="4.5"/><circle cx="779.3" cy="658.6" r="4.5"/><circle cx="785.7" cy="658.6" r="4.5"/><circle cx="793.7" cy="653.8" r="4.5"/><circle cx="801.6" cy="653.8" r="4.5"/><circle cx="808" cy="650.6" r="4.5"/><circle cx="816" cy="650.6" r="4.5"/><circle cx="742.6" cy="658.6" r="4.5"/><circle cx="737.8" cy="663.4" r="4.5"/><circle cx="733.1" cy="663.4" r="4.5"/><circle cx="729.9" cy="668.2" r="4.5"/><circle cx="721.9" cy="672.2" r="4.5"/><circle cx="729.1" cy="672.2" r="4.5"/><circle cx="753.8" cy="663.4" r="4.5"/><circle cx="760.2" cy="663.4" r="4.5"/><circle cx="768.1" cy="666.6" r="4.5"/><circle cx="776.1" cy="666.6" r="4.5"/><circle cx="784.1" cy="668.2" r="4.5"/><circle cx="793.7" cy="668.2" r="4.5"/><circle cx="801.6" cy="663.4" r="4.5"/><circle cx="809.6" cy="663.4" r="4.5"/><circle cx="814.4" cy="668.2" r="4.5"/><circle cx="710.7" cy="680.9" r="4.5"/><circle cx="715.5" cy="684.9" r="4.5"/><circle cx="733.1" cy="680.9" r="4.5"/><circle cx="742.6" cy="676.1" r="4.5"/><circle cx="745.8" cy="684.9" r="4.5"/><circle cx="755.4" cy="672.2" r="4.5"/><circle cx="763.4" cy="680.9" r="4.5"/><circle cx="772.9" cy="677.7" r="4.5"/><circle cx="781.7" cy="676.1" r="4.5"/><circle cx="792.1" cy="676.1" r="4.5"/><circle cx="800" cy="680.9" r="4.5"/><circle cx="808" cy="676.1" r="4.5"/><circle cx="699.6" cy="692.1" r="4.5"/><circle cx="705.9" cy="692.1" r="4.5"/><circle cx="713.9" cy="692.1" r="4.5"/><circle cx="721.9" cy="690.5" r="4.5"/><circle cx="729.9" cy="690.5" r="4.5"/><circle cx="737.8" cy="688.9" r="4.5"/><circle cx="750.6" cy="692.1" r="4.5"/><circle cx="760.2" cy="692.1" r="4.5"/><circle cx="769.7" cy="690.5" r="4.5"/><circle cx="779.3" cy="687.3" r="4.5"/><circle cx="785.7" cy="692.1" r="4.5"/><circle cx="793.7" cy="688.9" r="4.5"/><circle cx="801.6" cy="686.5" r="4.5"/><circle cx="669.1" cy="725.3" r="4.5"/><circle cx="675.4" cy="725.3" r="4.5"/><circle cx="677.9" cy="720.3" r="4.5"/><circle cx="686.7" cy="717.8" r="4.5"/><circle cx="665.4" cy="732.8" r="4.5"/><circle cx="672.9" cy="735.3" r="4.5"/><circle cx="685.4" cy="734.1" r="4.5"/><circle cx="661.6" cy="740.3" r="4.5"/><circle cx="669.1" cy="742.8" r="4.5"/><circle cx="677.9" cy="740.3" r="4.5"/><circle cx="661.6" cy="749.1" r="4.5"/><circle cx="670.4" cy="747.9" r="4.5"/><circle cx="680.4" cy="747.9" r="4.5"/><circle cx="687.9" cy="750.4" r="4.5"/><circle cx="655.3" cy="755.4" r="4.5"/><circle cx="665.4" cy="755.4" r="4.5"/><circle cx="677.9" cy="755.4" r="4.5"/><circle cx="685.4" cy="754.1" r="4.5"/><circle cx="647.8" cy="762.9" r="4.5"/><circle cx="660.3" cy="762.9" r="4.5"/><circle cx="670.4" cy="764.1" r="4.5"/><circle cx="677.9" cy="765.4" r="4.5"/><circle cx="685.4" cy="762.9" r="4.5"/><circle cx="631.5" cy="780.1" r="4.5"/><circle cx="631.5" cy="787.6" r="4.5"/><circle cx="640.3" cy="790.1" r="4.5"/><circle cx="652.8" cy="790.1" r="4.5"/><circle cx="644.1" cy="795.1" r="4.5"/><circle cx="622.8" cy="795.1" r="4.5"/><circle cx="627.8" cy="800.2" r="4.5"/><circle cx="635.3" cy="802.7" r="4.5"/><circle cx="640.3" cy="802.7" r="4.5"/><circle cx="619" cy="803.9" r="4.5"/><circle cx="635.3" cy="810.2" r="4.5"/><circle cx="619" cy="812.7" r="4.5"/><circle cx="624" cy="820.2" r="4.5"/><circle cx="619" cy="820.2" r="4.5"/><circle cx="630.3" cy="819" r="4.5"/><circle cx="645.3" cy="817.7" r="4.5"/><circle cx="652.8" cy="805.2" r="4.5"/><circle cx="655.3" cy="802.7" r="4.5"/><circle cx="665.4" cy="787.6" r="4.5"/><circle cx="670.4" cy="783.9" r="4.5"/><circle cx="677.9" cy="780.1" r="4.5"/><circle cx="677.9" cy="775.1" r="4.5"/><circle cx="675.4" cy="770.1" r="4.5"/><circle cx="665.4" cy="773.8" r="4.5"/><circle cx="660.3" cy="778.9" r="4.5"/><circle cx="588.9" cy="825.2" r="4.5"/><circle cx="594" cy="834" r="4.5"/><circle cx="597.7" cy="830.2" r="4.5"/><circle cx="601.5" cy="826.5" r="4.5"/><circle cx="606.5" cy="834" r="4.5"/><circle cx="615.2" cy="830.2" r="4.5"/><circle cx="619" cy="830.2" r="4.5"/><circle cx="585.2" cy="843.3" r="4.5"/><circle cx="597.7" cy="843.3" r="4.5"/><circle cx="585.2" cy="856.5" r="4.5"/><circle cx="590.2" cy="856.5" r="4.5"/><circle cx="597.7" cy="856.5" r="4.5"/><circle cx="585.2" cy="860.3" r="4.5"/><circle cx="588.9" cy="869.1" r="4.5"/><circle cx="563.9" cy="878.3" r="4.5"/><circle cx="571.4" cy="878.3" r="4.5"/><circle cx="572.7" cy="882.8" r="4.5"/><circle cx="546.3" cy="904.1" r="4.5"/><circle cx="682.9" cy="772.6" r="4.5"/><circle cx="685.4" cy="780.1" r="4.5"/><circle cx="680.4" cy="787.6" r="4.5"/><circle cx="670.4" cy="792.6" r="4.5"/><circle cx="660.3" cy="795.1" r="4.5"/><circle cx="650.3" cy="797.7" r="4.5"/><circle cx="691.4" cy="698.2" r="4.5"/><circle cx="699.4" cy="698.2" r="4.5"/><circle cx="716.4" cy="698.2" r="4.5"/><circle cx="730.1" cy="698.2" r="4.5"/><circle cx="736.9" cy="697.1" r="4.5"/><circle cx="743.8" cy="698.2" r="4.5"/><circle cx="751.8" cy="693.7" r="4.5"/><circle cx="759.7" cy="694.8" r="4.5"/><circle cx="766.6" cy="692.5" r="4.5"/><circle cx="750.6" cy="702.8" r="4.5"/><circle cx="757.4" cy="702.8" r="4.5"/><circle cx="708.5" cy="702.8" r="4.5"/><circle cx="702.8" cy="707.3" r="4.5"/><circle cx="725.6" cy="705.1" r="4.5"/><circle cx="733.5" cy="706.2" r="4.5"/><circle cx="741.5" cy="706.2" r="4.5"/><circle cx="748.3" cy="708.5" r="4.5"/><circle cx="754" cy="709.6" r="4.5"/><circle cx="686.8" cy="716.4" r="4.5"/><circle cx="695.9" cy="718.7" r="4.5"/><circle cx="711.9" cy="715.3" r="4.5"/><circle cx="717.6" cy="711.9" r="4.5"/><circle cx="725.6" cy="714.2" r="4.5"/><circle cx="730.1" cy="716.4" r="4.5"/><circle cx="739.2" cy="714.2" r="4.5"/><circle cx="746.1" cy="714.2" r="4.5"/><circle cx="759.7" cy="709.6" r="4.5"/><circle cx="680" cy="719.9" r="4.5"/><circle cx="700.5" cy="723.3" r="4.5"/><circle cx="707.3" cy="725.6" r="4.5"/><circle cx="714.2" cy="724.4" r="4.5"/><circle cx="721" cy="723.3" r="4.5"/><circle cx="726.7" cy="722.1" r="4.5"/><circle cx="732.4" cy="723.3" r="4.5"/><circle cx="740.4" cy="719.9" r="4.5"/><circle cx="697.1" cy="730.1" r="4.5"/><circle cx="702.8" cy="732.4" r="4.5"/><circle cx="709.6" cy="733.5" r="4.5"/><circle cx="718.7" cy="730.1" r="4.5"/><circle cx="725.6" cy="729" r="4.5"/><circle cx="731.3" cy="731.3" r="4.5"/><circle cx="739.2" cy="727.8" r="4.5"/><circle cx="743.8" cy="733.5" r="4.5"/><circle cx="691.4" cy="738.1" r="4.5"/><circle cx="684.6" cy="741.5" r="4.5"/><circle cx="699.4" cy="739.2" r="4.5"/><circle cx="705.1" cy="740.4" r="4.5"/><circle cx="714.2" cy="738.1" r="4.5"/><circle cx="721" cy="736.9" r="4.5"/><circle cx="727.8" cy="736.9" r="4.5"/><circle cx="734.7" cy="736.9" r="4.5"/><circle cx="682.3" cy="748.3" r="4.5"/><circle cx="690.3" cy="748.3" r="4.5"/><circle cx="697.1" cy="750.6" r="4.5"/><circle cx="705.1" cy="748.3" r="4.5"/><circle cx="710.8" cy="746.1" r="4.5"/><circle cx="717.6" cy="744.9" r="4.5"/><circle cx="685.7" cy="757.4" r="4.5"/><circle cx="693.7" cy="756.3" r="4.5"/><circle cx="700.5" cy="757.4" r="4.5"/><circle cx="707.3" cy="757.4" r="4.5"/></g>
<g fill="#e8a7a7"><circle cx="823.2" cy="611.6" r="4.5"/><circle cx="823.2" cy="644.2" r="4.5"/><circle cx="823.2" cy="653.8" r="4.5"/><circle cx="823.2" cy="658.6" r="4.5"/><circle cx="823.2" cy="663.4" r="4.5"/><circle cx="823.2" cy="668.2" r="4.5"/><circle cx="823.2" cy="672.9" r="4.5"/><circle cx="823.2" cy="677.7" r="4.5"/><circle cx="823.2" cy="684.9" r="4.5"/><circle cx="810.4" cy="684.9" r="4.5"/><circle cx="805.6" cy="694" r="4.5"/><circle cx="801.6" cy="698" r="4.5"/><circle cx="801.6" cy="702.8" r="4.5"/><circle cx="801.6" cy="707.5" r="4.5"/><circle cx="823.2" cy="694" r="4.5"/><circle cx="823.2" cy="698" r="4.5"/><circle cx="823.2" cy="711.5" r="4.5"/><circle cx="823.2" cy="725.1" r="4.5"/><circle cx="788.9" cy="710.7" r="4.5"/><circle cx="788.9" cy="715.5" r="4.5"/><circle cx="788.9" cy="720.3" r="4.5"/><circle cx="793.7" cy="724.3" r="4.5"/><circle cx="793.7" cy="733.1" r="4.5"/><circle cx="793.7" cy="742.6" r="4.5"/><circle cx="801.6" cy="737.8" r="4.5"/><circle cx="776.1" cy="715.5" r="4.5"/><circle cx="776.1" cy="724.3" r="4.5"/><circle cx="776.1" cy="733.1" r="4.5"/><circle cx="776.1" cy="737.8" r="4.5"/><circle cx="776.1" cy="742.6" r="4.5"/><circle cx="776.1" cy="755.4" r="4.5"/><circle cx="763.4" cy="720.3" r="4.5"/><circle cx="769.7" cy="720.3" r="4.5"/><circle cx="772.9" cy="724.3" r="4.5"/><circle cx="766.5" cy="726.7" r="4.5"/><circle cx="758.6" cy="728.3" r="4.5"/><circle cx="753.8" cy="729.9" r="4.5"/><circle cx="750.6" cy="733.9" r="4.5"/><circle cx="763.4" cy="733.1" r="4.5"/><circle cx="760.2" cy="737.8" r="4.5"/><circle cx="764.9" cy="742.6" r="4.5"/><circle cx="757" cy="742.6" r="4.5"/><circle cx="750.6" cy="746.6" r="4.5"/><circle cx="759.4" cy="751.4" r="4.5"/><circle cx="733.9" cy="746.6" r="4.5"/><circle cx="725.1" cy="750.6" r="4.5"/><circle cx="728.3" cy="755.4" r="4.5"/><circle cx="737.8" cy="755.4" r="4.5"/><circle cx="742.6" cy="760.2" r="4.5"/><circle cx="750.6" cy="764.2" r="4.5"/><circle cx="750.6" cy="772.9" r="4.5"/><circle cx="750.6" cy="777.7" r="4.5"/><circle cx="759.4" cy="781.7" r="4.5"/><circle cx="733.9" cy="785.7" r="4.5"/><circle cx="755.4" cy="788.9" r="4.5"/><circle cx="717.1" cy="758.6" r="4.5"/><circle cx="715.5" cy="763.4" r="4.5"/><circle cx="721.9" cy="764.9" r="4.5"/><circle cx="725.1" cy="768.9" r="4.5"/><circle cx="710.7" cy="769.7" r="4.5"/><circle cx="713.9" cy="772.9" r="4.5"/><circle cx="704.4" cy="769.7" r="4.5"/><circle cx="704.4" cy="777.7" r="4.5"/><circle cx="712.3" cy="777.7" r="4.5"/><circle cx="699.6" cy="785.7" r="4.5"/><circle cx="692.4" cy="781.7" r="4.5"/><circle cx="707.5" cy="788.9" r="4.5"/><circle cx="755.2" cy="790.1" r="4.5"/><circle cx="755.2" cy="795.1" r="4.5"/><circle cx="720.6" cy="808.4" r="4.5"/><circle cx="708.1" cy="808.4" r="4.5"/><circle cx="704.4" cy="798.9" r="4.5"/><circle cx="695.6" cy="808.4" r="4.5"/><circle cx="695.6" cy="817.2" r="4.5"/><circle cx="750.7" cy="821.5" r="4.5"/><circle cx="708.1" cy="790.1" r="4.5"/><circle cx="674.1" cy="816.4" r="4.5"/><circle cx="661.6" cy="808.2" r="4.5"/><circle cx="661.6" cy="816.4" r="4.5"/><circle cx="657.3" cy="825.7" r="4.5"/><circle cx="640.3" cy="839" r="4.5"/><circle cx="610.2" cy="856.5" r="4.5"/><circle cx="619" cy="860.8" r="4.5"/><circle cx="674.1" cy="795.1" r="4.5"/><circle cx="679.1" cy="795.1" r="4.5"/><circle cx="682.9" cy="812.2" r="4.5"/><circle cx="687.4" cy="816.4" r="4.5"/></g>
<g fill="#668df5"><circle cx="721.1" cy="606.3" r="4.5"/><circle cx="725.9" cy="606.3" r="4.5"/><circle cx="750.6" cy="606.3" r="4.5"/><circle cx="759.4" cy="606.3" r="4.5"/><circle cx="776.9" cy="606.3" r="4.5"/><circle cx="733.9" cy="615.2" r="4.5"/><circle cx="742.6" cy="628.3" r="4.5"/><circle cx="695.6" cy="637.1" r="4.5"/><circle cx="725.1" cy="637.1" r="4.5"/><circle cx="695.6" cy="658.9" r="4.5"/><circle cx="717.1" cy="653.8" r="4.5"/><circle cx="717.1" cy="658.6" r="4.5"/><circle cx="717.1" cy="663.4" r="4.5"/><circle cx="691.6" cy="676.5" r="4.5"/><circle cx="700.4" cy="676.5" r="4.5"/><circle cx="705.1" cy="676.5" r="4.5"/><circle cx="648.6" cy="694" r="4.5"/><circle cx="657.3" cy="712" r="4.5"/><circle cx="661.6" cy="720.3" r="4.5"/><circle cx="661.6" cy="729.1" r="4.5"/><circle cx="652.8" cy="742.3" r="4.5"/><circle cx="627.3" cy="737.8" r="4.5"/><circle cx="640.3" cy="737.8" r="4.5"/><circle cx="635.8" cy="747.1" r="4.5"/><circle cx="627.3" cy="751.6" r="4.5"/><circle cx="610.2" cy="764.1" r="4.5"/><circle cx="678.4" cy="671.4" r="4.5"/><circle cx="678.4" cy="676.4" r="4.5"/><circle cx="678.4" cy="703.3" r="4.5"/><circle cx="610.2" cy="773.3" r="4.5"/><circle cx="614.5" cy="795.1" r="4.5"/><circle cx="589.4" cy="812.7" r="4.5"/></g>
<line x1="530.1" y1="923.4" x2="824" y2="648.2" stroke="#323847" stroke-width="2.3" stroke-linecap="round"/>
<text x="260.5" y="54.6" font-size="17" fill="#2e3342" font-weight="700" text-anchor="middle" textLength="158.8" lengthAdjust="spacingAndGlyphs" stroke="#2e3342" stroke-width="0.3">Obce bez dětí v MŠ</text>
<text x="666.2" y="51.9" font-size="17" fill="#2e3342" font-weight="700" text-anchor="middle" textLength="261.3" lengthAdjust="spacingAndGlyphs" stroke="#2e3342" stroke-width="0.3">Obce s hraničním počtem dětí v</text>
<text x="666.5" y="73.5" font-size="17" fill="#2e3342" font-weight="700" text-anchor="middle" textLength="126.7" lengthAdjust="spacingAndGlyphs" stroke="#2e3342" stroke-width="0.3">MŠ (do 24 dětí)</text>
<text x="268" y="529.3" font-size="17" fill="#2e3342" font-weight="700" text-anchor="middle" textLength="222.4" lengthAdjust="spacingAndGlyphs" stroke="#2e3342" stroke-width="0.3">Obce s nízkým počtem dětí</text>
<text x="268.4" y="550" font-size="17" fill="#2e3342" font-weight="700" text-anchor="middle" textLength="137.3" lengthAdjust="spacingAndGlyphs" stroke="#2e3342" stroke-width="0.3">v MŠ (do 48 dětí)</text>
<text x="671.2" y="538.9" font-size="17" fill="#2e3342" font-weight="700" text-anchor="middle" textLength="262.8" lengthAdjust="spacingAndGlyphs" stroke="#2e3342" stroke-width="0.3">Obce s vyšším počtem dětí v MŠ</text>
<text x="28.8" y="86.2" font-size="14" fill="#464b58" font-weight="400" text-anchor="start" textLength="179" lengthAdjust="spacingAndGlyphs">počet dětí 0–3 roky; 2024</text>
<text x="29" y="584.6" font-size="14" fill="#464b58" font-weight="400" text-anchor="start" textLength="178" lengthAdjust="spacingAndGlyphs">počet dětí 0–3 roky; 2024</text>
<text x="387" y="489.3" font-size="14" fill="#464b58" font-weight="400" text-anchor="start" textLength="175" lengthAdjust="spacingAndGlyphs">počet dětí 0–3 roky; 2021</text>
<text x="392.7" y="991.3" font-size="14" fill="#464b58" font-weight="400" text-anchor="start" textLength="175.5" lengthAdjust="spacingAndGlyphs">počet dětí 0–3 roky; 2021</text>
<text x="84.5" y="427.8" font-size="13.5" fill="#464b58" font-weight="400" text-anchor="end">0</text>
<text x="84.5" y="373.6" font-size="13.5" fill="#464b58" font-weight="400" text-anchor="end">12</text>
<text x="84.5" y="319.5" font-size="13.5" fill="#464b58" font-weight="400" text-anchor="end">24</text>
<text x="84.5" y="265.3" font-size="13.5" fill="#464b58" font-weight="400" text-anchor="end">36</text>
<text x="84.5" y="211.2" font-size="13.5" fill="#464b58" font-weight="400" text-anchor="end">48</text>
<text x="84.5" y="157" font-size="13.5" fill="#464b58" font-weight="400" text-anchor="end">60</text>
<text x="84.5" y="112.5" font-size="13.5" fill="#464b58" font-weight="400" text-anchor="end" textLength="54.8" lengthAdjust="spacingAndGlyphs">72 a více</text>
<text x="84.5" y="928.8" font-size="13.5" fill="#464b58" font-weight="400" text-anchor="end">0</text>
<text x="84.5" y="874.6" font-size="13.5" fill="#464b58" font-weight="400" text-anchor="end">12</text>
<text x="84.5" y="820.5" font-size="13.5" fill="#464b58" font-weight="400" text-anchor="end">24</text>
<text x="84.5" y="766.3" font-size="13.5" fill="#464b58" font-weight="400" text-anchor="end">36</text>
<text x="84.5" y="712.2" font-size="13.5" fill="#464b58" font-weight="400" text-anchor="end">48</text>
<text x="84.5" y="658" font-size="13.5" fill="#464b58" font-weight="400" text-anchor="end">60</text>
<text x="84.5" y="613.5" font-size="13.5" fill="#464b58" font-weight="400" text-anchor="end" textLength="54.8" lengthAdjust="spacingAndGlyphs">72 a více</text>
<text x="113.5" y="455.3" font-size="13" fill="#464b58" font-weight="400" text-anchor="middle">0</text>
<text x="164.5" y="455.3" font-size="13" fill="#464b58" font-weight="400" text-anchor="middle">12</text>
<text x="215.3" y="455.3" font-size="13" fill="#464b58" font-weight="400" text-anchor="middle">24</text>
<text x="265.2" y="455.3" font-size="13" fill="#464b58" font-weight="400" text-anchor="middle">36</text>
<text x="314.8" y="455.3" font-size="13" fill="#464b58" font-weight="400" text-anchor="middle">48</text>
<text x="364.1" y="455.3" font-size="13" fill="#464b58" font-weight="400" text-anchor="middle">60</text>
<text x="418.6" y="455.3" font-size="13" fill="#464b58" font-weight="400" text-anchor="end">72+</text>
<text x="518.3" y="455.3" font-size="13" fill="#464b58" font-weight="400" text-anchor="middle">0</text>
<text x="569.3" y="455.3" font-size="13" fill="#464b58" font-weight="400" text-anchor="middle">12</text>
<text x="620.1" y="455.3" font-size="13" fill="#464b58" font-weight="400" text-anchor="middle">24</text>
<text x="670" y="455.3" font-size="13" fill="#464b58" font-weight="400" text-anchor="middle">36</text>
<text x="719.6" y="455.3" font-size="13" fill="#464b58" font-weight="400" text-anchor="middle">48</text>
<text x="768.9" y="455.3" font-size="13" fill="#464b58" font-weight="400" text-anchor="middle">60</text>
<text x="823.7" y="455.3" font-size="13" fill="#464b58" font-weight="400" text-anchor="end">72+</text>
<text x="113.6" y="957" font-size="13" fill="#464b58" font-weight="400" text-anchor="middle">0</text>
<text x="164.6" y="957" font-size="13" fill="#464b58" font-weight="400" text-anchor="middle">12</text>
<text x="215.4" y="957" font-size="13" fill="#464b58" font-weight="400" text-anchor="middle">24</text>
<text x="265.3" y="957" font-size="13" fill="#464b58" font-weight="400" text-anchor="middle">36</text>
<text x="314.9" y="957" font-size="13" fill="#464b58" font-weight="400" text-anchor="middle">48</text>
<text x="364.2" y="957" font-size="13" fill="#464b58" font-weight="400" text-anchor="middle">60</text>
<text x="418.2" y="957" font-size="13" fill="#464b58" font-weight="400" text-anchor="end">72+</text>
<text x="518.2" y="957" font-size="13" fill="#464b58" font-weight="400" text-anchor="middle">0</text>
<text x="569.2" y="957" font-size="13" fill="#464b58" font-weight="400" text-anchor="middle">12</text>
<text x="620" y="957" font-size="13" fill="#464b58" font-weight="400" text-anchor="middle">24</text>
<text x="669.9" y="957" font-size="13" fill="#464b58" font-weight="400" text-anchor="middle">36</text>
<text x="719.5" y="957" font-size="13" fill="#464b58" font-weight="400" text-anchor="middle">48</text>
<text x="768.8" y="957" font-size="13" fill="#464b58" font-weight="400" text-anchor="middle">60</text>
<text x="823.7" y="957" font-size="13" fill="#464b58" font-weight="400" text-anchor="end">72+</text>
<text x="168.9" y="185.1" font-size="20" fill="#6a8ef3" font-weight="700" text-anchor="start" textLength="34" lengthAdjust="spacingAndGlyphs">119</text>
<text x="330.9" y="179.7" font-size="20" fill="#b2a68c" font-weight="700" text-anchor="start" textLength="54.8" lengthAdjust="spacingAndGlyphs">2 504</text>
<text x="331.6" y="354.3" font-size="20" fill="#e8a5a4" font-weight="700" text-anchor="start" textLength="33.4" lengthAdjust="spacingAndGlyphs">241</text>
<text x="573.8" y="185.2" font-size="20" fill="#6a8ef3" font-weight="700" text-anchor="start" textLength="36.6" lengthAdjust="spacingAndGlyphs">102</text>
<text x="744.4" y="181.4" font-size="20" fill="#b2a68c" font-weight="700" text-anchor="start" textLength="37.9" lengthAdjust="spacingAndGlyphs">855</text>
<text x="737.2" y="361" font-size="20" fill="#e8a5a4" font-weight="700" text-anchor="start" textLength="32" lengthAdjust="spacingAndGlyphs">211</text>
<text x="166.4" y="679.7" font-size="20" fill="#6a8ef3" font-weight="700" text-anchor="start" textLength="32.7" lengthAdjust="spacingAndGlyphs">122</text>
<text x="360.8" y="652.1" font-size="20" fill="#b2a68c" font-weight="700" text-anchor="start" textLength="33.6" lengthAdjust="spacingAndGlyphs">759</text>
<text x="332" y="867.8" font-size="20" fill="#e8a5a4" font-weight="700" text-anchor="start" textLength="32.8" lengthAdjust="spacingAndGlyphs">275</text>
<text x="573.2" y="678.2" font-size="20" fill="#6a8ef3" font-weight="700" text-anchor="start" textLength="23.0" lengthAdjust="spacingAndGlyphs">38</text>
<text x="539.3" y="866" font-size="20" fill="#b2a68c" font-weight="700" text-anchor="start" textLength="36.1" lengthAdjust="spacingAndGlyphs">840</text>
<text x="738.4" y="865.3" font-size="20" fill="#e8a5a4" font-weight="700" text-anchor="start" textLength="33" lengthAdjust="spacingAndGlyphs">192</text>
<rect x="81.3" y="2.6" width="2.8" height="2.8" fill="#2e3342"/>
<path d="M475.6 2.6 L473.8 4.8" stroke="#2e3342" stroke-width="1.3" stroke-linecap="round"/>
</svg>
</body></html>
